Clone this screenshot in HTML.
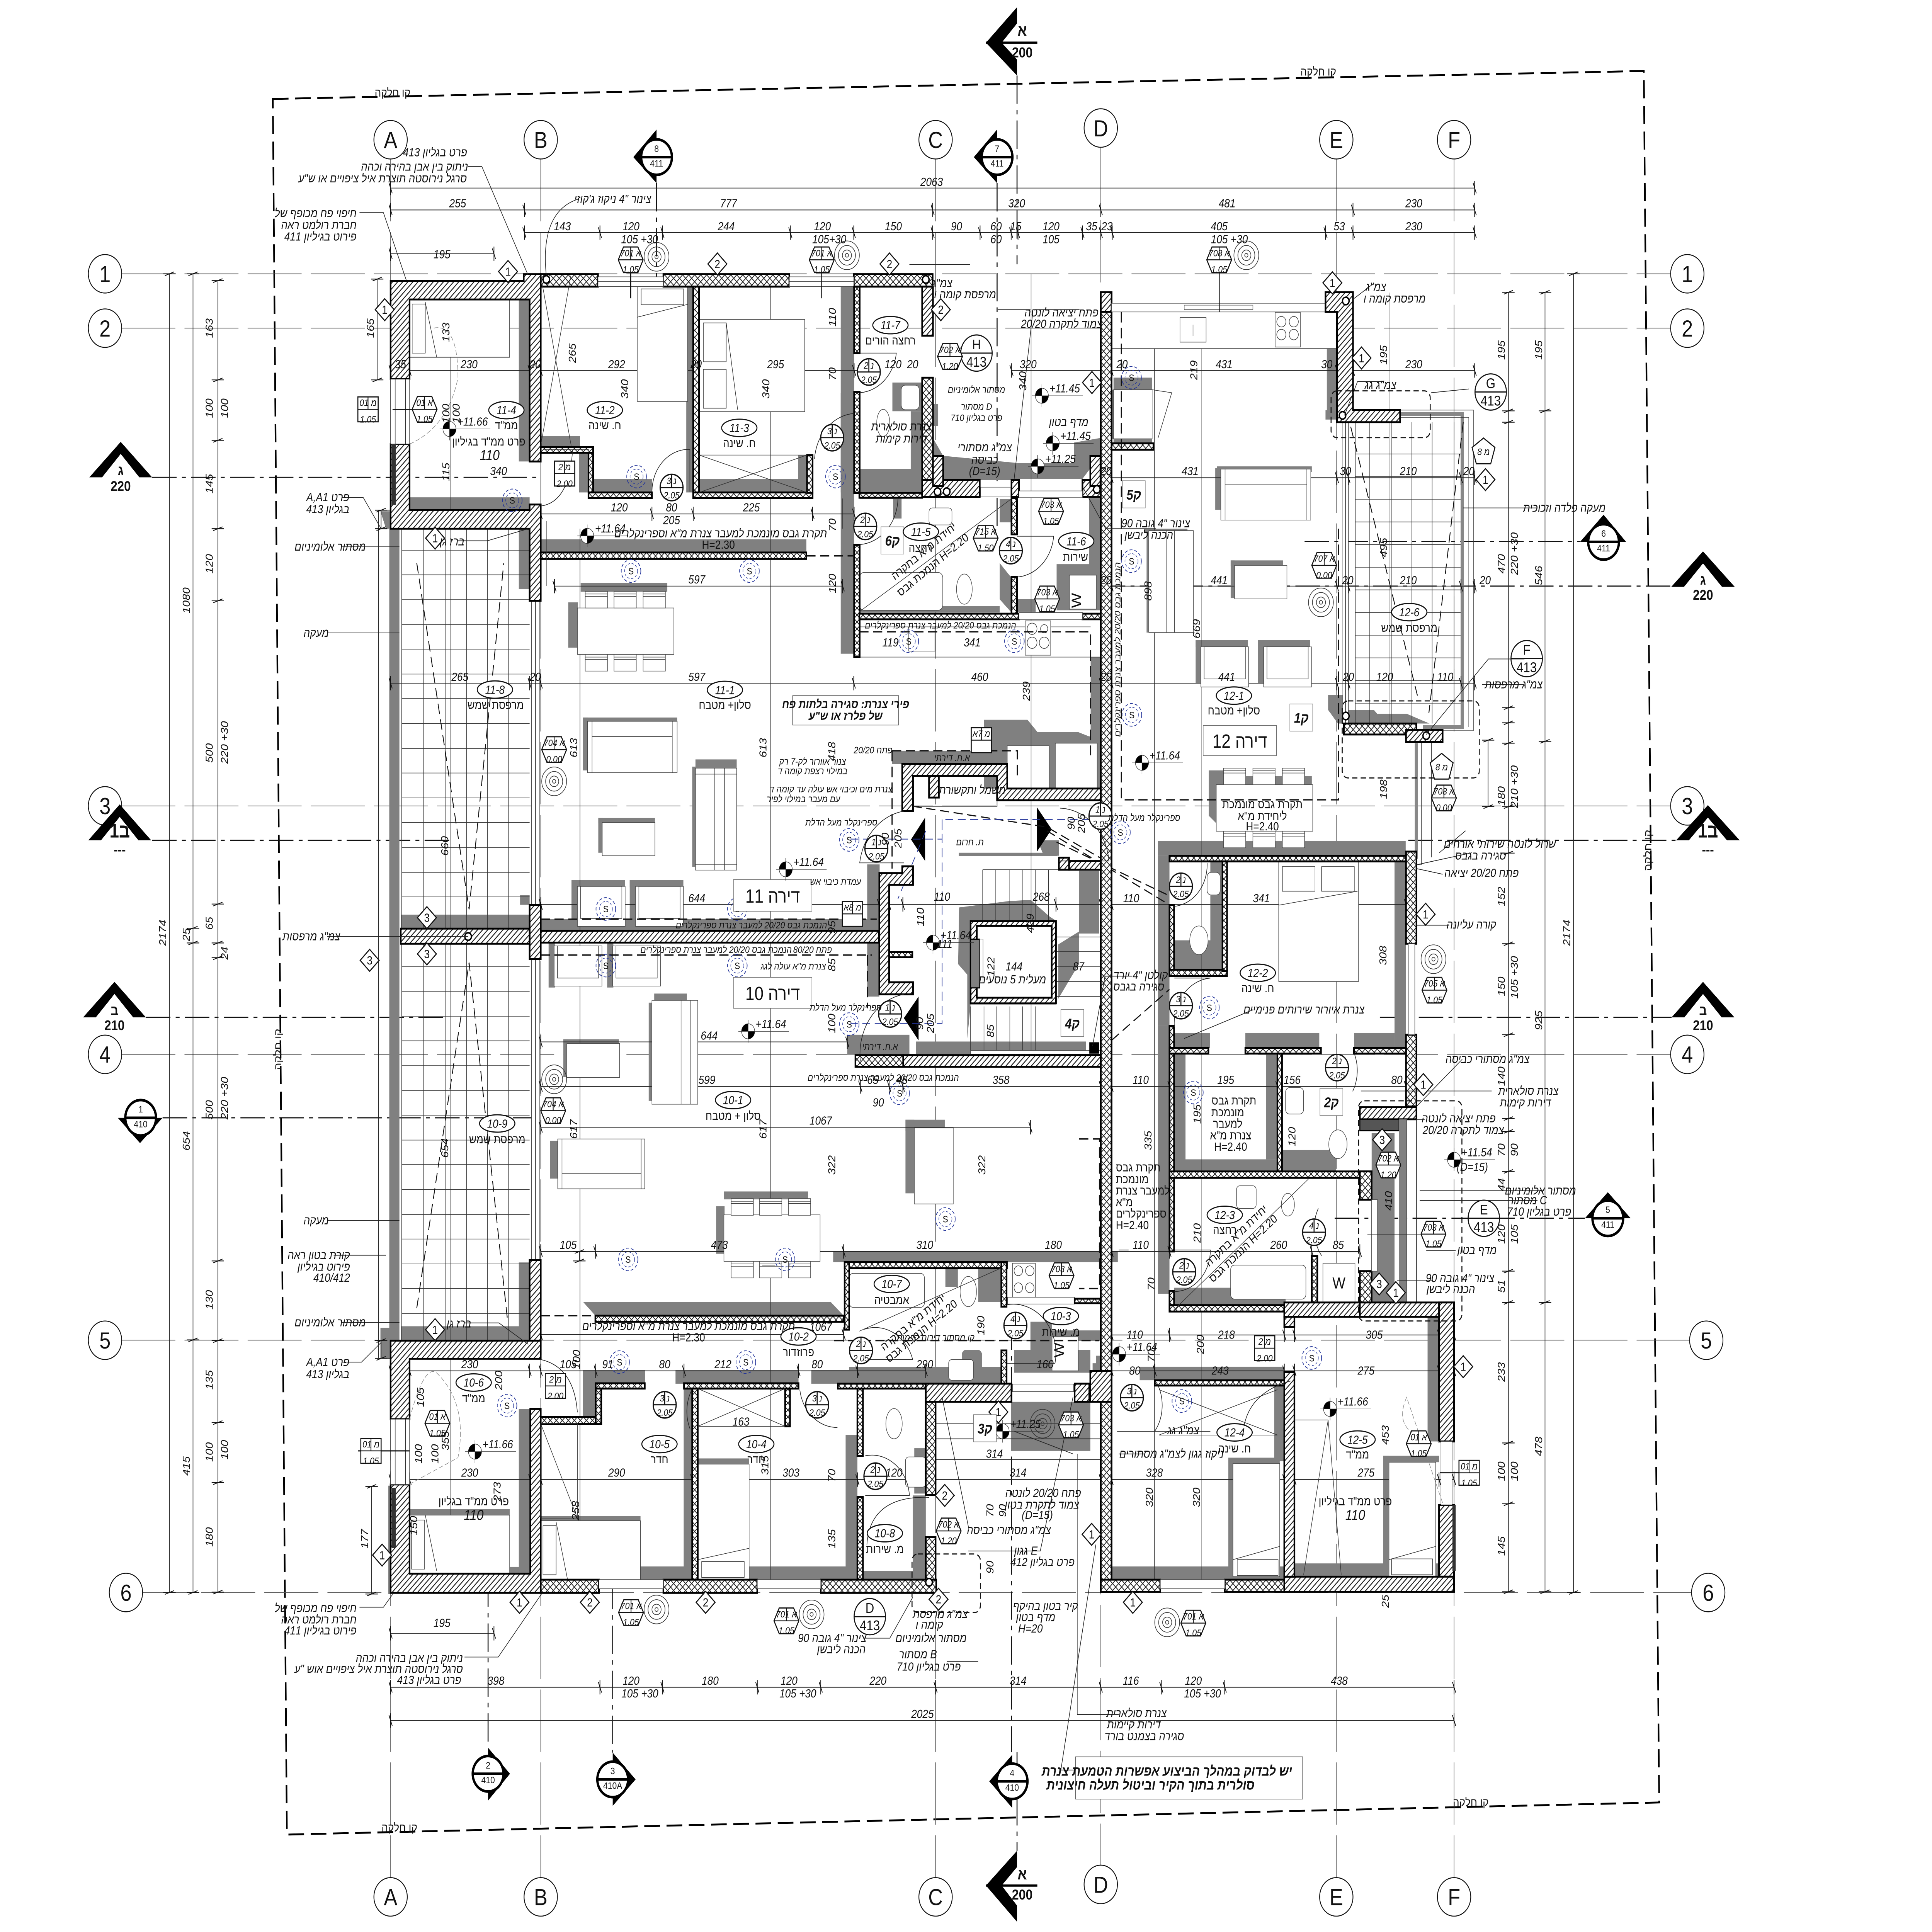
<!DOCTYPE html>
<html style="width:100%;height:100%;overflow:hidden"><head><meta charset="utf-8"><style>
html,body{margin:0;padding:0;background:#fff;overflow:hidden;width:100%;height:100%}
svg{display:block;width:100vw;height:100vh}
text{font-family:"Liberation Sans Narrow","Liberation Sans","Noto Sans CJK SC",sans-serif;font-style:italic;font-size:31px;text-anchor:middle;fill:#111;stroke:none}
.u{font-style:normal}.r{text-anchor:end}.l{text-anchor:start}.b{font-weight:bold}
.f{font-size:25px}.m{font-size:37px}.g{font-family:"Liberation Sans",sans-serif;font-style:normal;font-size:62px}
.w{fill:url(#h);stroke:#000;stroke-width:5}.x{fill:url(#c);stroke:#000;stroke-width:5}
.s{fill:#808080;stroke:none}.t{fill:none;stroke:#333;stroke-width:1.6}.q{fill:#fff;stroke:#444;stroke-width:1.6}
.d{fill:none;stroke:#222;stroke-width:2;marker-start:url(#k);marker-mid:url(#k);marker-end:url(#k)}
.gl{fill:none;stroke:#555;stroke-width:1.6;stroke-dasharray:165 28}
.sc{fill:none;stroke:#111;stroke-width:3;stroke-dasharray:75 16 12 16}
.da{fill:none;stroke:#111;stroke-width:3.5;stroke-dasharray:28 14}
.l1{fill:none;stroke:#222;stroke-width:1.8}
.blk{fill:#000;stroke:none}
</style></head><body>
<svg xmlns="http://www.w3.org/2000/svg" viewBox="0 0 5906 5116" preserveAspectRatio="none">
<defs>
<pattern id="h" width="11" height="11" patternUnits="userSpaceOnUse" patternTransform="rotate(-45)"><rect width="11" height="11" fill="#fff"/><rect width="11" height="2.6" fill="#222"/></pattern>
<pattern id="c" width="13" height="13" patternUnits="userSpaceOnUse" patternTransform="rotate(45)"><rect width="13" height="13" fill="#fff"/><rect width="13" height="2.2" fill="#222"/><rect width="2.2" height="13" fill="#222"/></pattern>
<marker id="k" markerUnits="userSpaceOnUse" markerWidth="44" markerHeight="44" viewBox="-22 -22 44 44" orient="auto"><path d="M-5,-14L5,14M0,-19V19" stroke="#111" stroke-width="2.2" fill="none"/></marker>
<g id="hex"><polygon points="-22,-34 22,-34 38,0 22,34 -22,34 -38,0" fill="#fff" stroke="#111" stroke-width="3"/><path d="M-38,0H38M0,-34V0" stroke="#111" stroke-width="2.5"/></g>
<g id="dr"><circle r="35" fill="#fff" stroke="#111" stroke-width="3.5"/><path d="M-35,0H35M0,-35V0" stroke="#111" stroke-width="3"/></g>
<g id="sq"><rect x="-31" y="-33" width="62" height="66" fill="#fff" stroke="#111" stroke-width="3"/><path d="M-31,0H31M0,-33V0" stroke="#111" stroke-width="2.5"/></g>
<polygon id="dm" points="0,-29 29,0 0,29 -29,0" fill="#fff" stroke="#111" stroke-width="3"/>
<g id="lv"><circle r="20" fill="#fff" stroke="#333" stroke-width="1.5"/><path d="M0,0V-20A20,20 0 0 0 -20,0ZM0,0V20A20,20 0 0 0 20,0Z" fill="#000"/><path d="M0,0H125M0,-30V30M-30,0H30" stroke="#333" stroke-width="1.3" fill="none"/></g>
<g id="sp"><circle r="30" fill="none" stroke="#223399" stroke-width="2" stroke-dasharray="9 6"/><circle r="20" fill="none" stroke="#223399" stroke-width="1.5" stroke-dasharray="7 5"/></g>
<g id="sr" fill="none" stroke="#333" stroke-width="1.8"><circle r="38"/><circle r="26"/><circle r="14"/><circle r="5"/></g>
<ellipse id="el" rx="54" ry="23" fill="#fff" stroke="#111" stroke-width="3"/>
<g id="bx"><rect x="-35" y="-36" width="70" height="72" fill="#fff" stroke="#777" stroke-width="1.5"/></g>
<g id="chair"><rect x="0" y="0" width="68" height="44" class="q"/><path d="M0,7H68M0,13H68" class="t"/></g>
<g id="arm"><rect width="146" height="106" class="q"/><rect x="10" y="0" width="126" height="85" class="t"/></g>
</defs>
<rect width="5906" height="5116" fill="#fff"/>

<!-- parcel -->
<path d="M834,262L5025,188L5072,4773L877,4858Z" fill="none" stroke="#000" stroke-width="5" stroke-dasharray="48 20"/>

<!-- grid -->
<path class="gl" d="M1194,421V4973M1653,421V4973M2860,421V4973M3365,390V4940M4085,421V4973M4445,421V4973"/>
<path class="gl" d="M371,725H5108M371,869H5108M371,2134H5108M371,2792H5108M371,3549H5165M422,4217H5172"/>

<!-- section lines -->
<path class="sc" d="M465,1264H1640M3365,1552H5109M465,2225H1382M4305,2225H5124M446,2694H1365M4218,2694H5110M497,2960H1655M3988,1434H4830M4080,3226H4845"/>
<path class="sc" d="M2007,485V1015M3048,485V1400M1492,4061V4628M1873,4067V4641"/>
<path class="sc" d="M3109,200V700M3092,3500V4640M3109,4640V4901"/>

<!-- shadows -->
<g class="s">
<rect x="1586" y="793" width="33" height="429"/><rect x="1252" y="1317" width="367" height="34"/>
<rect x="2098" y="759" width="21" height="545"/><rect x="2570" y="759" width="41" height="545"/>
<rect x="1653" y="1155" width="120" height="30"/><rect x="1770" y="1199" width="30" height="105"/><rect x="1813" y="1268" width="180" height="36"/>
<rect x="2137" y="1268" width="330" height="36"/><rect x="2440" y="1205" width="27" height="99"/>
<rect x="1653" y="1428" width="812" height="35"/>
<rect x="2728" y="1013" width="91" height="76"/><rect x="2784" y="1089" width="35" height="153"/><rect x="2627" y="1242" width="192" height="63"/><rect x="2852" y="1070" width="16" height="58"/>
<polygon points="2852,1160 2883,1207 3110,1226 3110,1271 2852,1271"/>
<polygon points="3110,1226 3283,1226 3283,1172 3362,1160 3362,1207 3309,1268 3110,1268"/>
<rect x="2730" y="1319" width="26" height="54"/><rect x="3056" y="1322" width="36" height="61"/>
<polygon points="3329,1319 3364,1319 3364,1616 3230,1616 3230,1494 3329,1494"/>
<polygon points="3056,1491 3092,1530 3092,1622 3056,1587"/>
<polygon points="2627,1590 2847,1590 2847,1565 2883,1565 2883,1605 3056,1605 3056,1622 2627,1622"/>
<rect x="3111" y="1586" width="55" height="34"/>
<rect x="2570" y="1041" width="41" height="690"/>
<rect x="3334" y="1740" width="31" height="348"/>
<polygon points="3008,1973 3008,1906 3141,1906 3171,1938 3294,1938 3329,1950 3354,1950 3354,2088 3008,2088"/>
<rect x="2727" y="1988" width="383" height="35"/><rect x="3013" y="2055" width="36" height="33"/>
<rect x="2651" y="2289" width="38" height="172"/><rect x="2651" y="2495" width="37" height="138"/>
<rect x="2800" y="2758" width="520" height="36"/>
<rect x="2931" y="2258" width="301" height="9"/>
<polygon points="3171,2225 3237,2225 3237,2266 3191,2266"/>
<polygon points="2932,2403 3085,2386 3151,2383 3207,2426 3228,2438 3228,2660 2967,2660 2957,2750 2957,2581 2929,2553"/>
<rect x="3298" y="2306" width="62" height="166"/>
<polygon points="3235,2501 3298,2467 3298,2553 3235,2645"/>
<rect x="1653" y="2434" width="1034" height="31"/><rect x="1225" y="2422" width="394" height="37"/>
<rect x="1586" y="1400" width="33" height="160"/><rect x="1586" y="3343" width="33" height="184"/><rect x="1225" y="3512" width="394" height="37"/>
<rect x="1590" y="2370" width="29" height="26"/>
<rect x="1190" y="1400" width="31" height="2150"/>
<polygon points="1163,1354 1195,1354 1195,1400 1180,1400"/><rect x="1163" y="3516" width="32" height="81"/><rect x="1187" y="3934" width="10" height="287"/>
<rect x="2547" y="3314" width="870" height="28"/>
<polygon points="1783,3448 2540,3448 2579,3484 1820,3484"/>
<rect x="2652" y="2529" width="36" height="110"/><rect x="2590" y="2740" width="190" height="52"/>
<rect x="2596" y="3620" width="465" height="44"/><rect x="3100" y="3575" width="233" height="60"/>
<rect x="3090" y="3712" width="243" height="130"/><rect x="3340" y="3610" width="25" height="55"/>
<rect x="3150" y="3500" width="66" height="130"/><rect x="3216" y="3523" width="150" height="28"/>
<rect x="2940" y="3574" width="62" height="60" rx="14"/>
<rect x="2890" y="3358" width="38" height="50"/><rect x="2990" y="3358" width="70" height="90"/>
<rect x="2768" y="2965" width="120" height="30"/><rect x="2768" y="2965" width="27" height="195"/>
<rect x="1782" y="3635" width="40" height="128"/><rect x="1782" y="3628" width="190" height="36"/><rect x="2065" y="3628" width="376" height="36"/>
<rect x="2480" y="3628" width="350" height="36"/>
<rect x="2090" y="3677" width="26" height="475"/><rect x="1653" y="4148" width="463" height="35"/>
<rect x="2585" y="3800" width="36" height="383"/><rect x="2133" y="4148" width="488" height="35"/>
<rect x="2133" y="3862" width="157" height="18"/>
<rect x="1653" y="4015" width="305" height="15"/>
<rect x="1586" y="3731" width="35" height="436"/><rect x="1252" y="4149" width="369" height="18"/><rect x="1252" y="3996" width="306" height="17"/>
<rect x="2795" y="3835" width="35" height="120"/><rect x="2790" y="3960" width="40" height="225"/><rect x="2638" y="4160" width="192" height="25"/>
<rect x="3398" y="1032" width="24" height="130"/><rect x="3404" y="1000" width="118" height="32"/><rect x="3404" y="1162" width="118" height="12"/>
<rect x="3720" y="1235" width="290" height="15"/><rect x="3715" y="1240" width="17" height="110"/>
<rect x="3500" y="1400" width="130" height="12"/><rect x="3505" y="1405" width="12" height="270"/>
<rect x="3762" y="1484" width="160" height="14"/><rect x="3762" y="1484" width="12" height="100"/>
<rect x="3655" y="1695" width="160" height="18"/><rect x="3655" y="1695" width="16" height="115"/>
<rect x="3845" y="1695" width="160" height="18"/><rect x="3845" y="1695" width="18" height="115"/>
<rect x="4056" y="923" width="31" height="163"/><rect x="4052" y="1086" width="35" height="25"/>
<polygon points="4060,1840 4105,1840 4108,1916 4090,1916 4060,1880"/>
<polygon points="4108,1880 4200,1880 4210,1890 4300,1890 4370,1916 4108,1916"/>
<rect x="3540" y="2227" width="757" height="39"/><rect x="3540" y="2266" width="35" height="450"/><rect x="4263" y="2281" width="35" height="494"/>
<rect x="3700" y="2281" width="37" height="250"/>
<rect x="3589" y="2490" width="148" height="78"/>
<rect x="3589" y="2735" width="110" height="40"/><rect x="3807" y="2735" width="226" height="40"/><rect x="4139" y="2735" width="124" height="40"/>
<rect x="3589" y="2790" width="35" height="322"/><rect x="3589" y="3070" width="316" height="32"/><rect x="3870" y="2790" width="35" height="280"/>
<rect x="3919" y="3045" width="165" height="57"/>
<rect x="3540" y="2716" width="35" height="710"/>
<polygon points="3589,3410 3930,3410 3930,3456 3589,3456"/>
<rect x="3484" y="3619" width="442" height="36"/><rect x="3895" y="3669" width="31" height="200"/>
<rect x="3398" y="4148" width="528" height="35"/><rect x="3755" y="3860" width="14" height="290"/><rect x="3755" y="3860" width="157" height="15"/>
<rect x="4364" y="3487" width="35" height="330"/><rect x="4228" y="3855" width="171" height="17"/><rect x="4228" y="3855" width="18" height="300"/><rect x="3957" y="4140" width="442" height="35"/>
<rect x="4193" y="3000" width="70" height="449"/>
<rect x="3350" y="3590" width="48" height="40"/>
<rect x="3720" y="2055" width="290" height="23"/>
<polygon points="3695,2040 3740,2040 3740,2078 3718,2078 3718,2180 3695,2160"/>
<!-- furniture shadows apt 11 / 10 -->
<rect x="1775" y="1543" width="265" height="24"/><rect x="1737" y="1595" width="30" height="120"/>
<rect x="1782" y="1900" width="288" height="16"/><rect x="1782" y="1900" width="16" height="140"/>
<rect x="2116" y="2030" width="12" height="265"/><rect x="2126" y="2011" width="126" height="24"/>
<rect x="1829" y="2166" width="173" height="14"/><rect x="1829" y="2166" width="14" height="92"/>
<rect x="1747" y="2330" width="164" height="20"/><rect x="1747" y="2330" width="20" height="123"/><rect x="1925" y="2330" width="164" height="20"/><rect x="1925" y="2330" width="20" height="123"/>
<rect x="1677" y="2495" width="19" height="120"/><rect x="1856" y="2495" width="19" height="120"/>
<rect x="2000" y="2631" width="100" height="20"/><rect x="1983" y="2655" width="12" height="260"/>
<rect x="1722" y="2752" width="170" height="13"/><rect x="1722" y="2752" width="13" height="100"/>
<rect x="1681" y="3021" width="26" height="100"/>
<rect x="2213" y="3155" width="257" height="21"/><rect x="2189" y="3194" width="26" height="126"/>
</g>
<rect x="3079" y="1975" width="128" height="113" class="q"/><rect x="3226" y="1968" width="128" height="120" class="q"/>

<!-- balconies tiles -->
<path class="t" d="M1228,1400V3550M1294,1400V3550M1361,1400V3550M1426,1400V3550M1490,1400V3550M1555,1400V3550"/>
<path class="t" d="M1228,1457H1619M1228,1522H1619M1228,1588H1619M1228,1654H1619M1228,1719H1619M1228,1785H1619M1228,1850H1619M1228,1916H1619M1228,1982H1619M1228,2047H1619M1228,2113H1619M1228,2178H1619M1228,2244H1619M1228,2310H1619M1228,2375H1619M1228,2560H1619M1228,2625H1619M1228,2691H1619M1228,2756H1619M1228,2822H1619M1228,2888H1619M1228,2953H1619M1228,3019H1619M1228,3084H1619M1228,3150H1619M1228,3216H1619M1228,3281H1619M1228,3347H1619M1228,3412H1619M1228,3478H1619"/>
<path class="l1" d="M1157,1351V3597M1153,1351H1195M1153,3597H1195"/>
<path class="da" style="stroke-width:2.5" d="M1274,1491L1434,2408L1540,1491M1274,3464L1434,2549L1551,3492"/>
<path class="t" d="M4143,1118V1916M4186,1118V1916M4253,1118V1916M4316,1118V1916M4378,1118V1916M4445,1118V1916"/>
<path class="t" d="M4143,1202H4466M4143,1262H4466M4143,1322H4466M4143,1382H4466M4143,1442H4466M4143,1502H4466M4143,1562H4466M4143,1622H4466M4143,1682H4466M4143,1742H4466M4143,1802H4466M4143,1862H4466"/>
<path d="M4280,1096H4470V1925H4350M4330,1968V2274" fill="none" stroke="#888" stroke-width="10"/>
<path class="t" d="M4280,1086H4504V1935H4410M4280,1105H4490V1925M4345,1965V2290H4330M4376,1965V2270"/>
<path class="da" style="stroke-width:2.5" d="M4129,1130L4333,1842M4473,1118L4368,1888"/>
<rect x="4105" y="1118" width="17" height="798" class="q"/><path class="l1" d="M4113,1118V1916"/>
<rect x="1625" y="1591" width="25" height="805" class="q"/><rect x="1625" y="2540" width="25" height="797" class="q"/>
<path class="l1" d="M1637,1591V2396M1637,2540V3337"/>

<!-- long thin lines -->
<path class="t" d="M1378,743V4167M1773,1400V4183M2356,760V4183M2576,1320V1400M3152,726V2800M3529,826V4183M3672,826V4183M4249,775V1950"/>
<path class="d" d="M1194,981H1252H1619H1653H2119H2137H2611H2628"/>
<path class="d" d="M3092,981H3398H4087H4136H4508"/>
<path class="d" d="M1653,1361H1993H2119H2484H2611"/>
<path class="d" d="M1695,1552H2576"/>
<path class="d" d="M3398,1265H4087H4122H4466H4508"/>
<path class="d" d="M3398,1552H4087H4122H4466H4508"/>
<path class="d" d="M1194,1809H1619H1653H2610H3365H3398H4087H4122H4466H4508"/>
<path class="d" d="M1653,2395H2687"/><path class="d" d="M2718,2395H2760H3228H3365H3398H4298"/>
<path class="d" d="M1653,2759H2590"/><path class="d" d="M1653,2877H2630H2718H2760H3365H3398H3575H3905H4298"/>
<path class="d" d="M1653,2985H3150"/><path class="d" d="M1653,3314H1820H2579H3365H3398H3575H4010H4157"/>
<path class="d" d="M1653,3534H2579"/><path class="d" d="M3398,3535H3575H3926H3957H4399H4445"/>
<path class="d" d="M1194,3630H1252H1619H1653H1821H2091H2441H2621H2830"/><path class="d" d="M3398,3630H3530H3926H3957H4399H4445"/>
<path class="d" d="M1194,3918H1252H1621H1653H2116H2133H2621H2830H3365H3398H3926H3957H4399H4445"/>
<path class="l1" d="M2860,3865H3398M2860,3810H3398"/>

<!-- furniture -->
<g>
<rect x="1765" y="1610" width="295" height="123" class="q"/>
<use href="#chair" x="1789" y="1566"/><use href="#chair" x="1877" y="1566"/><use href="#chair" x="1966" y="1566"/><use href="#chair" x="1789" y="1733"/><use href="#chair" x="1877" y="1733"/><use href="#chair" x="1966" y="1733"/>
<rect x="1796" y="1910" width="274" height="136" class="q"/><path class="t" d="M1810,1950H2055M1810,1910V2046M2055,1910V2046"/>
<rect x="2126" y="2034" width="126" height="270" class="q"/><path class="t" d="M2185,2034V2304M2215,2034V2304M2126,2050H2252M2126,2290H2252"/>
<rect x="1841" y="2178" width="161" height="88" class="q"/>
<use href="#arm" x="1765" y="2347"/><use href="#arm" x="1943" y="2347"/>
<use href="#arm" x="1694" y="2505"/><use href="#arm" x="1873" y="2505"/>
<rect x="1993" y="2649" width="140" height="275" class="q"/><path class="t" d="M2082,2649V2924M2110,2649V2924"/>
<rect x="1733" y="2763" width="161" height="90" class="q"/>
<rect x="1705" y="3016" width="266" height="132" class="q"/><path class="t" d="M1718,3108H1960M1718,3016V3148M1960,3016V3148"/>
<rect x="2213" y="3217" width="294" height="123" class="q"/>
<use href="#chair" x="2235" y="3174"/><use href="#chair" x="2322" y="3174"/><use href="#chair" x="2410" y="3174"/><use href="#chair" x="2235" y="3340"/><use href="#chair" x="2322" y="3340"/><use href="#chair" x="2410" y="3340"/>
<rect x="2795" y="2987" width="119" height="201" class="q"/>
<rect x="3398" y="826" width="689" height="97" class="q"/><rect x="3607" y="841" width="80" height="65" class="t"/><path class="t" d="M3647,860V890"/>
<rect x="3898" y="827" width="77" height="92" class="q"/><circle cx="3917" cy="852" r="14" class="t"/><circle cx="3955" cy="852" r="14" class="t"/><circle cx="3917" cy="886" r="14" class="t"/><circle cx="3955" cy="886" r="14" class="t"/>
<rect x="3404" y="1032" width="118" height="130" class="q"/><path class="t" d="M3522,1032L3582,1040L3540,1160"/>
<rect x="3732" y="1242" width="275" height="135" class="q"/><path class="t" d="M3745,1282H3995M3745,1242V1377M3995,1242V1377"/>
<rect x="3512" y="1405" width="136" height="270" class="q"/><path class="t" d="M3565,1405V1675M3590,1405V1675"/>
<rect x="3774" y="1497" width="160" height="89" class="q"/>
<use href="#arm" x="3671" y="1713"/><use href="#arm" x="3863" y="1713"/>
<rect x="3718" y="2078" width="295" height="123" class="q"/>
<use href="#chair" x="3740" y="2034"/><use href="#chair" x="3830" y="2034"/><use href="#chair" x="3920" y="2034"/><use href="#chair" x="3740" y="2201"/><use href="#chair" x="3830" y="2201"/><use href="#chair" x="3920" y="2201"/>
<rect x="1948" y="759" width="154" height="304" class="q"/><rect x="1960" y="765" width="130" height="42" class="t"/><path class="t" d="M1948,840L2102,806"/>
<rect x="2137" y="846" width="323" height="244" class="q"/><rect x="2150" y="855" width="70" height="103" class="t"/><rect x="2150" y="978" width="70" height="103" class="t"/><path class="t" d="M2220,855L2255,1085"/>
<rect x="1252" y="793" width="306" height="153" class="q"/><rect x="1260" y="805" width="40" height="130" class="t"/><path class="t" d="M1300,800L1335,946"/>
<rect x="3909" y="2281" width="244" height="318" class="q"/><rect x="3920" y="2295" width="100" height="65" class="t"/><rect x="4040" y="2295" width="100" height="65" class="t"/><path class="t" d="M3909,2397L4150,2360"/>
<rect x="1252" y="4012" width="306" height="155" class="q"/><rect x="1258" y="4025" width="40" height="130" class="t"/><path class="t" d="M1300,4012L1335,4160"/>
<rect x="1653" y="4027" width="305" height="156" class="q"/><rect x="1660" y="4040" width="40" height="130" class="t"/><path class="t" d="M1700,4030L1735,4183"/>
<rect x="2133" y="3877" width="157" height="306" class="q"/><rect x="2145" y="4135" width="130" height="42" class="t"/><path class="t" d="M2133,4130L2290,4100"/>
<rect x="3769" y="3875" width="143" height="300" class="q"/><rect x="3782" y="4130" width="125" height="42" class="t"/><path class="t" d="M3769,4130L3912,4095"/>
<rect x="4246" y="3872" width="143" height="303" class="q"/><rect x="4254" y="4128" width="125" height="42" class="t"/><path class="t" d="M4246,4130L4389,4095"/>
<path class="t" d="M1252,946H1558V793M2628,1660H3334M2627,1740H3365"/>
<rect x="2778" y="1660" width="80" height="64" class="q"/><rect x="3134" y="1644" width="78" height="91" class="q"/><circle cx="3155" cy="1665" r="15" class="t"/><circle cx="3192" cy="1665" r="11" class="t"/><circle cx="3155" cy="1702" r="15" class="t"/><circle cx="3192" cy="1702" r="15" class="t"/>
<rect x="2627" y="1516" width="255" height="100" rx="14" class="q"/>
<ellipse cx="2948" cy="1560" rx="24" ry="40" class="q"/><ellipse cx="2700" cy="1120" rx="20" ry="36" class="q"/>
<rect x="2755" y="1020" width="55" height="65" rx="12" class="q"/><rect x="2840" y="1345" width="70" height="45" rx="10" class="q"/>
<rect x="2596" y="3372" width="230" height="90" rx="12" class="q"/><ellipse cx="2960" cy="3420" rx="25" ry="40" class="q"/>
<rect x="2900" y="3600" width="76" height="55" rx="10" class="q"/><ellipse cx="2733" cy="3770" rx="25" ry="40" class="q"/><rect x="2768" y="3858" width="62" height="80" rx="10" class="q"/>
<rect x="3780" y="3140" width="60" height="60" rx="10" class="q"/><ellipse cx="3937" cy="3190" rx="20" ry="30" class="q"/>
<rect x="3762" y="3350" width="230" height="90" rx="12" class="q"/>
<rect x="3690" y="2310" width="40" height="60" rx="12" class="q"/><ellipse cx="3665" cy="2490" rx="28" ry="38" class="q"/>
<rect x="3930" y="2880" width="55" height="70" rx="12" class="q"/><ellipse cx="4090" cy="3030" rx="28" ry="38" class="q"/>
<rect x="3269" y="1523" width="82" height="90" class="q"/>
<rect x="4044" y="3345" width="98" height="105" class="q"/><rect x="3216" y="3540" width="80" height="90" class="q"/>
<rect x="3095" y="3345" width="70" height="90" class="q"/><circle cx="3113" cy="3365" r="13" class="t"/><circle cx="3148" cy="3365" r="13" class="t"/><circle cx="3113" cy="3410" r="13" class="t"/><circle cx="3148" cy="3410" r="13" class="t"/>
<path class="t" d="M2853,3770H3365"/>
</g>

<!-- stairs -->
<path class="t" d="M3004,2303V2438M3044,2303V2438M3085,2303V2438M3125,2303V2438M3166,2303V2438M3205,2303V2438M3004,2303H3235M2967,2665V2782M3008,2665V2782M3047,2665V2782M3087,2665V2782M3126,2665V2782M3166,2665V2782M3228,2481H3365M3228,2520H3365M3228,2560H3365M3228,2599H3365M3228,2639H3365"/>
<rect x="2967" y="2782" width="398" height="10" class="q"/>
<rect x="2967" y="2439" width="261" height="218" fill="url(#h)" stroke="#000" stroke-width="5"/>
<rect x="2986" y="2452" width="229" height="190" fill="#fff" stroke="#000" stroke-width="5"/>
<rect x="2967" y="2487" width="28" height="129" fill="#808080" stroke="#000" stroke-width="3"/>
<rect x="2995" y="2487" width="10" height="115" fill="#fff" stroke="#444"/>
<polygon class="blk" points="2785,2223 2828,2165 2828,2280"/>
<polygon class="blk" points="3215,2196 3170,2138 3170,2255"/>
<polygon class="blk" points="2763,2696 2808,2639 2808,2755"/>
<path class="da" style="stroke-width:3" d="M2790,2135L3200,2190L3400,2290M3200,2200L3575,2396M3230,2230L3570,2370M3365,2780L3575,2620"/>
<path fill="none" stroke="#223399" stroke-width="2" stroke-dasharray="24 14" d="M2600,2222H2880V2170H3360M2880,2170V2710H2600M2830,2200L2745,2380"/>

<!-- walls -->
<g>
<path class="w" d="M1194,744H1601V726H1653V1222H1619V793H1252V1004H1194Z"/>
<path class="w" d="M1194,1176H1252V1351H1619V1336H1653V1591H1619V1400H1194Z"/>
<rect class="q" x="1194" y="1004" width="58" height="172"/><path class="l1" d="M1208,1004V1176M1240,1004V1176"/>
<rect x="1197" y="1176" width="13" height="161" fill="#333"/>
<rect class="x" x="1653" y="726" width="175" height="33"/><rect class="x" x="2028" y="726" width="385" height="33"/><rect class="x" x="2610" y="726" width="241" height="33"/>
<rect class="q" x="1828" y="733" width="200" height="26"/><rect class="q" x="2413" y="733" width="197" height="26"/><path class="l1" d="M1828,746H2028M2413,746H2610"/>
<rect class="x" x="2119" y="759" width="18" height="545"/><rect class="x" x="2119" y="1304" width="365" height="15"/><rect class="x" x="2467" y="1205" width="17" height="100"/>
<rect class="x" x="1653" y="1184" width="160" height="15"/><rect class="x" x="1799" y="1199" width="14" height="105"/><rect class="x" x="1799" y="1304" width="194" height="15"/>
<rect class="x" x="2611" y="759" width="17" height="176"/><rect class="x" x="2611" y="1038" width="17" height="268"/><rect class="x" x="2611" y="1443" width="17" height="297"/><rect class="x" x="2627" y="1305" width="192" height="13"/>
<rect class="w" x="2819" y="759" width="33" height="130"/><rect class="x" x="2819" y="1000" width="33" height="271"/>
<rect class="w" x="2819" y="1271" width="176" height="45"/><rect class="w" x="3092" y="1271" width="23" height="45"/><rect class="w" x="3309" y="1271" width="56" height="45"/>
<rect class="w" x="2852" y="1207" width="31" height="80"/><rect class="w" x="3333" y="1207" width="31" height="80"/>
<rect class="x" x="3092" y="1319" width="17" height="96"/><rect class="x" x="3092" y="1528" width="17" height="97"/>
<rect class="x" x="2627" y="1625" width="488" height="15"/><rect class="x" x="3309" y="1625" width="56" height="15"/>
<rect class="q" x="2998" y="1290" width="92" height="26"/><rect class="q" x="3115" y="1300" width="194" height="18"/><rect class="q" x="3115" y="1622" width="194" height="18"/>
<rect class="x" x="1653" y="1463" width="812" height="17"/><rect class="x" x="1820" y="3484" width="759" height="16"/>
<rect class="x" x="3365" y="774" width="33" height="3441"/>
<rect class="w" x="3365" y="774" width="33" height="52"/>
<rect class="q" x="3398" y="803" width="654" height="23"/><rect class="q" x="3620" y="808" width="210" height="12"/>
<path class="w" d="M4052,774H4136V1086H4280V1118H4087V826H4052Z"/>
<rect class="x" x="3398" y="1174" width="128" height="17"/>
<rect class="x" x="4108" y="1916" width="222" height="29"/><rect class="w" x="4298" y="1933" width="112" height="32"/>
<rect class="x" x="3575" y="2266" width="723" height="15"/><rect class="x" x="4298" y="2255" width="32" height="244"/><rect class="x" x="4298" y="2740" width="32" height="190"/>
<rect class="q" x="4305" y="2499" width="20" height="241"/>
<rect class="x" x="3575" y="2396" width="14" height="184"/><rect class="x" x="3575" y="2568" width="176" height="17"/><rect class="x" x="3737" y="2281" width="14" height="290"/>
<rect class="x" x="3575" y="2717" width="14" height="597"/><rect class="x" x="3575" y="2775" width="119" height="15"/><rect class="x" x="3807" y="2775" width="231" height="15"/><rect class="x" x="4139" y="2775" width="159" height="15"/>
<rect class="x" x="3905" y="2790" width="14" height="312"/><rect class="x" x="3575" y="3102" width="618" height="17"/><rect class="x" x="4157" y="3102" width="36" height="75"/><rect class="x" x="4157" y="3366" width="36" height="86"/>
<rect class="x" x="3575" y="3418" width="14" height="52"/><rect class="x" x="3575" y="3456" width="351" height="17"/>
<rect class="x" x="4010" y="3326" width="17" height="130"/><path class="l1" d="M4027,3315H4157"/>
<rect class="w" x="4157" y="2932" width="173" height="32"/><rect x="4157" y="2964" width="120" height="30" fill="#555" stroke="#000" stroke-width="3"/>
<rect class="q" x="4193" y="3177" width="18" height="189"/><path class="l1" d="M4300,2964V3449M4330,2964V3449"/><rect x="4277" y="2964" width="23" height="485" fill="#808080"/>
<rect class="w" x="3926" y="3449" width="231" height="38"/><rect class="w" x="4157" y="3449" width="288" height="38"/>
<rect class="w" x="4399" y="3449" width="46" height="368"/><rect class="w" x="4399" y="3985" width="46" height="190"/><rect class="q" x="4405" y="3817" width="34" height="168"/>
<rect x="4440" y="3985" width="10" height="175" fill="#333"/>
<rect class="w" x="3926" y="4175" width="519" height="40"/><rect class="x" x="3365" y="4183" width="182" height="32"/><rect class="x" x="3744" y="4183" width="182" height="32"/><rect class="q" x="3547" y="4183" width="197" height="24"/>
<rect class="w" x="3926" y="3633" width="31" height="542"/><rect class="w" x="3926" y="3487" width="31" height="27"/>
<rect class="x" x="3530" y="3655" width="396" height="14"/>
<rect class="w" x="1619" y="2396" width="34" height="144"/>
<rect class="w" x="1225" y="2459" width="394" height="40"/><rect class="w" x="1653" y="2465" width="1034" height="31"/>
<rect class="w" x="1619" y="3337" width="34" height="248"/>
<path class="w" d="M1194,3550H1653V3598H1252V3758H1194Z"/>
<path class="w" d="M1194,3931H1252V4167H1621V3731H1653V4218H1194Z"/>
<rect class="q" x="1194" y="3758" width="58" height="173"/><path class="l1" d="M1208,3758V3931M1240,3758V3931"/>
<rect x="1197" y="3940" width="13" height="160" fill="#333"/>
<rect class="x" x="1653" y="3752" width="185" height="19"/><rect class="x" x="1821" y="3663" width="17" height="108"/><rect class="x" x="1821" y="3663" width="150" height="14"/><rect class="x" x="2091" y="3663" width="350" height="14"/>
<rect class="x" x="2116" y="3677" width="17" height="506"/><rect class="x" x="2400" y="3677" width="15" height="100"/>
<rect class="x" x="2621" y="3677" width="17" height="178"/><rect class="x" x="2621" y="3964" width="17" height="219"/>
<rect class="x" x="2561" y="3664" width="269" height="13"/>
<rect class="x" x="2830" y="3712" width="30" height="247"/><rect class="x" x="2830" y="4070" width="30" height="139"/>
<rect class="w" x="2830" y="3664" width="262" height="48"/><rect class="w" x="3285" y="3664" width="45" height="48"/><rect class="w" x="3333" y="3630" width="65" height="82"/>
<rect class="q" x="3095" y="3665" width="187" height="20"/>
<rect class="x" x="2582" y="3342" width="496" height="16"/><rect class="x" x="2582" y="3342" width="14" height="179"/><rect class="x" x="3061" y="3342" width="16" height="118"/><rect class="x" x="3061" y="3576" width="16" height="88"/>
<rect class="q" x="3080" y="3435" width="205" height="18"/><rect class="x" x="3285" y="3439" width="80" height="12"/>
<rect class="x" x="1653" y="4183" width="178" height="35"/><rect class="x" x="2028" y="4183" width="287" height="35"/><rect class="x" x="2509" y="4183" width="353" height="35"/>
<rect class="q" x="1831" y="4183" width="197" height="24"/><rect class="q" x="2315" y="4183" width="194" height="24"/>
<path class="w" d="M2758,2023H3079V2088H3365V2119H3048V2055H2791V2148H2758Z"/>
<rect class="w" x="2840" y="2055" width="30" height="57"/><path class="l1" d="M2791,2135H3048V2119"/>
<rect class="w" x="3237" y="2271" width="31" height="32"/><rect class="w" x="3268" y="2280" width="97" height="23"/>
<path class="w" d="M2688,2312H2758V2294H2791V2343H2718V2601H2791V2633H2688Z"/>
<rect class="x" x="2718" y="2521" width="71" height="14"/>
<rect class="w" x="2761" y="2794" width="604" height="31"/><rect class="x" x="2615" y="2794" width="146" height="31"/>
<rect x="3330" y="2760" width="30" height="30" fill="#000"/>
</g>
<g fill="#fff" stroke="#000" stroke-width="4"><circle cx="1670" cy="740" r="10"/><circle cx="2830" cy="740" r="10"/><circle cx="4114" cy="797" r="10"/><circle cx="4104" cy="1100" r="10"/><circle cx="3353" cy="1296" r="10"/><circle cx="2866" cy="1302" r="10"/><circle cx="2894" cy="1302" r="10"/><circle cx="1431" cy="2480" r="10"/><circle cx="4114" cy="1896" r="10"/><circle cx="4360" cy="1948" r="10"/><circle cx="2840" cy="4190" r="10"/></g>

<!-- dashed -->
<path class="da" d="M2465,1472H2611M2627,1673H3334V2000M1653,2434H2680M1653,2529H2665M2652,2529V2670M1653,3484H1820M3428,826V2118H4092V1400M3299,3016H3361V3412H3299M2550,3550H3360M2727,1988H3110V2055M2727,1988V2300"/>
<g fill="none" stroke="#111" stroke-width="3" stroke-dasharray="16 10">
<rect x="4069" y="1035" width="303" height="124" rx="18"/><rect x="4103" y="1856" width="419" height="204" rx="18"/><rect x="4153" y="2915" width="316" height="583" rx="18"/><rect x="2788" y="4115" width="209" height="155" rx="18"/>
</g>
<path class="t" d="M1670,1552V1380M2627,3525L3060,3358M2627,1620L3090,1322M3587,3470L4000,3122M2137,1304L2467,1205L2137,1205L2467,1304M1660,1190H1800M1653,3770L1765,4020M1653,4020V3770H1765V4020ZM2133,3777L2400,3677M2133,3677L2400,3777M2133,3777H2400M3543,3680L3905,3800M3543,3800L3905,3680M3543,3800H3905M3957,3760H4060L4100,4170M4060,3760L3985,4170M1653,730L1746,1180M1745,730L1653,1180"/>
<!-- doors -->
<path class="l1" d="M2109,1190A112,112 0 0 0 1993,1302M2109,1190V1302M1653,1340Q1740,1330 1750,1195M2628,1040A120,120 0 0 0 2740,935H2628M2628,1442A125,125 0 0 0 2745,1320H2628M2610,1095A130,130 0 0 0 2490,1215M3109,1528A120,120 0 0 0 3221,1420H3109M2763,2148A160,160 0 0 0 2628,2285H2763M2763,2633A160,160 0 0 0 2630,2810M3240,2140A155,155 0 0 1 3390,2280H3240M3590,2400A110,110 0 0 0 3690,2285M3590,2720A120,120 0 0 1 3700,2590H3590M3590,3420A110,110 0 0 0 3700,3310H3590M4040,3325A120,120 0 0 1 4030,3200M4140,2790A115,115 0 0 1 4135,2890M3535,3660A115,115 0 0 1 3530,3790H3415M2115,3680A115,115 0 0 0 2110,3785M2445,3680A115,115 0 0 0 2560,3780M1653,3600Q1755,3620 1765,3740M2642,3520A120,120 0 0 1 2790,3600H2642M3078,3455A130,130 0 0 1 3225,3610H3078M2645,3855A115,115 0 0 1 2780,3960H2645M2650,4090Q2660,3960 2840,3965M3945,3657Q3810,3690 3800,3795"/>
<path fill="none" stroke="#888" stroke-width="1.5" stroke-dasharray="14 6" d="M1252,1176Q1370,1130 1400,1000Q1400,850 1320,870M1252,3758Q1300,3600 1340,3640Q1430,3720 1400,3860L1252,3930M4399,3817Q4250,3800 4300,3700L4410,3980"/>

<!-- dimensions -->
<path class="d" d="M1194,498H4508"/>
<path class="d" d="M1194,556H1603H2851H3365H4136H4508"/>
<path class="d" d="M1603,616H1834H2025H2416H2610H2851H2996H3091H3112H3309H3365H3400H4052H4136H4508"/>
<path class="d" d="M1194,4468H1834H2025H2315H2509H2860H3365H3550H3744H4445"/>
<path class="d" d="M1194,4556H4445"/>
<path class="d" d="M1194,672H1510"/><path class="d" d="M1194,4325H1510"/>
<path class="d" d="M518,725V4217"/><path class="d" d="M590,725V2458V2497V3548V4217"/>
<path class="d" d="M666,743V1006V1166V1400V1591V2394V2497V2536V3339V3550V3767V3926V4216"/>
<path class="d" d="M1153,739V1006"/><path class="d" d="M1136,3936V4221"/>
<path class="d" d="M4611,774V1088V1118V1874V1914V1968V2136V2259V2499V2740V2962V2996V3102V3366V3449V3821V3982V4215"/>
<path class="d" d="M4723,774V1088V1963V3449V4215"/><path class="d" d="M4810,725V4217"/>
<path class="d" d="M4549,1960V2136"/>
<path class="d" d="M1165,1351V1400"/><path class="d" d="M1165,3550V3597"/>
<path class="d" d="M1771,3314V3339"/>

<!-- grid bubbles -->
<g fill="#fff" stroke="#111" stroke-width="2.5">
<circle cx="1194" cy="370" r="51"/><circle cx="1653" cy="370" r="51"/><circle cx="2860" cy="370" r="51"/><circle cx="3365" cy="339" r="51"/><circle cx="4085" cy="370" r="51"/><circle cx="4445" cy="370" r="51"/>
<circle cx="1194" cy="5023" r="51"/><circle cx="1653" cy="5023" r="51"/><circle cx="2860" cy="5023" r="51"/><circle cx="3365" cy="4990" r="51"/><circle cx="4085" cy="5023" r="51"/><circle cx="4445" cy="5023" r="51"/>
<circle cx="321" cy="725" r="51"/><circle cx="321" cy="869" r="51"/><circle cx="321" cy="2134" r="51"/><circle cx="321" cy="2792" r="51"/><circle cx="321" cy="3549" r="51"/><circle cx="385" cy="4217" r="51"/>
<circle cx="5158" cy="725" r="51"/><circle cx="5158" cy="869" r="51"/><circle cx="5158" cy="2134" r="51"/><circle cx="5158" cy="2792" r="51"/><circle cx="5216" cy="3549" r="51"/><circle cx="5222" cy="4217" r="51"/>
</g>
<g class="g">
<text class="g" x="1194" y="392">A</text><text class="g" x="1653" y="392">B</text><text class="g" x="2860" y="392">C</text><text class="g" x="3365" y="361">D</text><text class="g" x="4085" y="392">E</text><text class="g" x="4445" y="392">F</text>
<text class="g" x="1194" y="5045">A</text><text class="g" x="1653" y="5045">B</text><text class="g" x="2860" y="5045">C</text><text class="g" x="3365" y="5012">D</text><text class="g" x="4085" y="5045">E</text><text class="g" x="4445" y="5045">F</text>
<text class="g" x="321" y="747">1</text><text class="g" x="321" y="891">2</text><text class="g" x="321" y="2156">3</text><text class="g" x="321" y="2814">4</text><text class="g" x="321" y="3571">5</text><text class="g" x="385" y="4239">6</text>
<text class="g" x="5158" y="747">1</text><text class="g" x="5158" y="891">2</text><text class="g" x="5158" y="2156">3</text><text class="g" x="5158" y="2814">4</text><text class="g" x="5216" y="3571">5</text><text class="g" x="5222" y="4239">6</text>
</g>

<!-- section markers -->
<g class="blk">
<path d="M273,1264L369,1170L465,1264H426L369,1202L312,1264Z"/>
<path d="M270,2225L366,2130L462,2225H423L366,2163L309,2225Z"/>
<path d="M254,2694L350,2600L446,2694H407L350,2632L293,2694Z"/>
<path d="M5109,1554L5206,1460L5303,1554H5264L5206,1492L5148,1554Z"/>
<path d="M5124,2225L5221,2132L5318,2225H5279L5221,2165L5163,2225Z"/>
<path d="M5110,2694L5206,2600L5302,2694H5263L5206,2632L5149,2694Z"/>
<path d="M3014,113L3109,19V62L3062,113L3109,158V200Z"/><path d="M3014,4993L3109,4901V4944L3062,4993L3109,5046V5089Z"/>
</g>
<path d="M3014,113H3171M3014,4993H3171" stroke="#000" stroke-width="6"/>
<g font-weight="bold">
<text class="u b m" x="369" y="1258">ג</text><text class="u b m" x="369" y="1300">220</text>
<text class="u b" style="font-size:52px" x="366" y="2218">ב1</text><text class="u b m" x="366" y="2262">---</text>
<text class="u b m" x="350" y="2688">ב</text><text class="u b m" x="350" y="2728">210</text>
<text class="u b m" x="5206" y="1548">ג</text><text class="u b m" x="5206" y="1588">220</text>
<text class="u b" style="font-size:52px" x="5221" y="2218">ב1</text><text class="u b m" x="5221" y="2262">---</text>
<text class="u b m" x="5206" y="2688">ב</text><text class="u b m" x="5206" y="2728">210</text>
<text class="u b" style="font-size:42px" x="3125" y="95">א</text><text class="u b" style="font-size:38px" x="3125" y="152">200</text>
<text class="u b" style="font-size:42px" x="3125" y="4977">א</text><text class="u b" style="font-size:38px" x="3125" y="5030">200</text>
</g>
<!-- detail markers -->
<g stroke="#000" stroke-width="7" fill="#fff">
<path class="blk" d="M1936,416L2007,343V485Z"/><circle cx="2007" cy="416" r="47"/><path d="M1960,416H2054"/>
<path class="blk" d="M2977,416L3048,343V485Z"/><circle cx="3048" cy="416" r="47"/><path d="M3001,416H3095"/>
<path class="blk" d="M1559,4697L1492,4628V4768Z"/><circle cx="1492" cy="4697" r="47"/><path d="M1445,4697H1539"/>
<path class="blk" d="M1943,4712L1873,4641V4782Z"/><circle cx="1873" cy="4712" r="47"/><path d="M1826,4712H1920"/>
<path class="blk" d="M3024,4717L3094,4647V4787Z"/><circle cx="3094" cy="4717" r="47"/><path d="M3047,4717H3141"/>
<path class="blk" d="M360,2960H497L428,3027Z"/><circle cx="430" cy="2960" r="47"/><path d="M383,2960H477"/>
<path class="blk" d="M4830,1435H4971L4902,1363Z"/><circle cx="4902" cy="1435" r="47"/><path d="M4855,1435H4949"/>
<path class="blk" d="M4845,3226H4985L4915,3157Z"/><circle cx="4915" cy="3226" r="47"/><path d="M4868,3226H4962"/>
</g>
<g class="u">
<text class="u f" x="2007" y="402">8</text><text class="u f" x="2007" y="441">411</text>
<text class="u f" x="3048" y="402">7</text><text class="u f" x="3048" y="441">411</text>
<text class="u f" x="1492" y="4683">2</text><text class="u f" x="1492" y="4722">410</text>
<text class="u f" x="1873" y="4698">3</text><text class="u f" x="1873" y="4737">410A</text>
<text class="u f" x="3094" y="4703">4</text><text class="u f" x="3094" y="4742">410</text>
<text class="u f" x="430" y="2946">1</text><text class="u f" x="430" y="2985">410</text>
<text class="u f" x="4902" y="1421">6</text><text class="u f" x="4902" y="1460">411</text>
<text class="u f" x="4915" y="3212">5</text><text class="u f" x="4915" y="3251">411</text>
</g>
<!-- detail circles letter -->
<g fill="#fff" stroke="#111" stroke-width="3">
<circle cx="4557" cy="1038" r="48"/><circle cx="4667" cy="1744" r="48"/><circle cx="4536" cy="3226" r="48"/><circle cx="2659" cy="4281" r="48"/><circle cx="2985" cy="935" r="48"/>
<path d="M4509,1038H4605M4619,1744H4715M4488,3226H4584M2611,4281H2707M2937,935H3033"/>
</g>
<g class="u">
<text class="u m" x="4557" y="1028">G</text><text class="u m" x="4557" y="1074">413</text><text class="u m" x="4667" y="1734">F</text><text class="u m" x="4667" y="1780">413</text><text class="u m" x="4536" y="3216">E</text><text class="u m" x="4536" y="3262">413</text><text class="u m" x="2659" y="4271">D</text><text class="u m" x="2659" y="4317">413</text><text class="u m" x="2985" y="925">H</text><text class="u m" x="2985" y="971">413</text>
</g>

<!-- spirals -->
<use href="#sr" x="2007" y="680"/><use href="#sr" x="2589" y="676"/><use href="#sr" x="3810" y="676"/><use href="#sr" x="4038" y="1595"/><use href="#sr" x="1694" y="2069"/><use href="#sr" x="1694" y="2858"/><use href="#sr" x="4382" y="2540"/><use href="#sr" x="2007" y="4262"/><use href="#sr" x="2481" y="4275"/><use href="#sr" x="3568" y="4296"/><use href="#sr" x="3187" y="3770"/>

<!-- sprinklers -->
<g>
<use href="#sp" x="1566" y="1325"/><use href="#sp" x="1946" y="1262"/><use href="#sp" x="1929" y="1512"/><use href="#sp" x="2291" y="1512"/><use href="#sp" x="2554" y="1262"/><use href="#sp" x="2778" y="1698"/><use href="#sp" x="3459" y="1000"/><use href="#sp" x="3459" y="1486"/><use href="#sp" x="3101" y="1698"/><use href="#sp" x="3460" y="1893"/><use href="#sp" x="1852" y="2407"/><use href="#sp" x="2254" y="2407"/><use href="#sp" x="1852" y="2557"/><use href="#sp" x="2254" y="2557"/><use href="#sp" x="2596" y="2224"/><use href="#sp" x="2596" y="2712"/><use href="#sp" x="2750" y="2895"/><use href="#sp" x="2890" y="3228"/><use href="#sp" x="1920" y="3335"/><use href="#sp" x="2400" y="3335"/><use href="#sp" x="1894" y="3607"/><use href="#sp" x="2280" y="3607"/><use href="#sp" x="1550" y="3722"/><use href="#sp" x="3425" y="2204"/><use href="#sp" x="3697" y="2668"/><use href="#sp" x="3648" y="2893"/><use href="#sp" x="4010" y="3596"/><use href="#sp" x="3613" y="3710"/>
</g>
<g class="f">
<text class="f u" x="1566" y="1334">S</text><text class="f u" x="1946" y="1271">S</text><text class="f u" x="1929" y="1521">S</text><text class="f u" x="2291" y="1521">S</text><text class="f u" x="2554" y="1271">S</text><text class="f u" x="2778" y="1707">S</text><text class="f u" x="3459" y="1009">S</text><text class="f u" x="3459" y="1495">S</text><text class="f u" x="3101" y="1707">S</text><text class="f u" x="3460" y="1902">S</text><text class="f u" x="1852" y="2416">S</text><text class="f u" x="2254" y="2416">S</text><text class="f u" x="1852" y="2566">S</text><text class="f u" x="2254" y="2566">S</text><text class="f u" x="2596" y="2233">S</text><text class="f u" x="2596" y="2721">S</text><text class="f u" x="2750" y="2904">S</text><text class="f u" x="2890" y="3237">S</text><text class="f u" x="1920" y="3344">S</text><text class="f u" x="2400" y="3344">S</text><text class="f u" x="1894" y="3616">S</text><text class="f u" x="2280" y="3616">S</text><text class="f u" x="1550" y="3731">S</text><text class="f u" x="3425" y="2213">S</text><text class="f u" x="3697" y="2677">S</text><text class="f u" x="3648" y="2902">S</text><text class="f u" x="4010" y="3605">S</text><text class="f u" x="3613" y="3719">S</text>
</g>

<!-- leaders -->
<path class="l1" d="M1431,441H1473L1614,728M1099,563H1172L1242,742M1768,527Q1650,560 1670,730M1420,4388H1523L1656,4220M1099,4256H1172L1200,4222M1045,1317H1110L1165,1400M1045,1448H1221M1000,1676H1221M1400,1432H1490L1615,1400M1000,2480H1431M1000,3232H1221M1020,3324H1180M1045,3502H1221M1045,3607H1105L1165,3555M1420,3503H1525L1615,3560M2870,4286L2862,4230M2895,4400H2990M2640,4338H2720L2790,4230M2965,700H2780M4140,790L4200,750M3150,820H3050M3300,820H3158L3100,1270M4230,1010H4150L4110,1100M4375,1040L4490,1030M3533,1400H3380L3310,1290M4660,1745H4550L4360,1945M4660,1813H4530M4700,1345H4472M4500,2258L4330,2290M4400,2258L4480,2200M4410,2315L4330,2300M4430,2450H4330M4470,2805L4330,2930M4560,2889L4160,2889M4355,2965H4330M4340,3153H4720M4340,3179H4700M4180,3268H4400M4360,3311H4450M4380,3390H4270M3420,3790H3700M3280,3850L3100,3790M3420,3850H3500M2960,4107H3180L3280,3700M3420,4540H3293V3850M3288,4687H3243L3350,4090M2962,4050L2880,3700M3830,2674L3620,2750M3460,2585H3378L3340,2770M3450,3310H3420M2370,3350H2330"/>

<!-- note boxes -->
<rect x="2423" y="1842" width="324" height="78" fill="#fff" stroke="#555" stroke-width="1.5"/>
<rect x="3288" y="4652" width="694" height="112" fill="#fff" stroke="#555" stroke-width="1.5"/>
<g fill="#fff" stroke="#666" stroke-width="1.5"><rect x="2242" y="2329" width="240" height="84"/><rect x="2242" y="2588" width="240" height="82"/><rect x="3678" y="1921" width="224" height="80"/></g>
<text class="u m" style="font-size:50px" x="2362" y="2390">דירה 11</text><text class="u m" style="font-size:50px" x="2362" y="2648">דירה 10</text><text class="u m" style="font-size:50px" x="3790" y="1980">דירה 12</text>

<!-- diamonds -->
<g>
<use href="#dm" x="1553" y="719"/><use href="#dm" x="1176" y="820"/><use href="#dm" x="2193" y="699"/><use href="#dm" x="2719" y="699"/><use href="#dm" x="2876" y="820"/><use href="#dm" x="1330" y="1425"/><use href="#dm" x="4073" y="749"/><use href="#dm" x="3338" y="1013"/><use href="#dm" x="4162" y="948"/><use href="#dm" x="4541" y="1270"/><use href="#dm" x="1305" y="2430"/><use href="#dm" x="1305" y="2526"/><use href="#dm" x="1130" y="2543"/><use href="#dm" x="1330" y="3521"/><use href="#dm" x="4358" y="2421"/><use href="#dm" x="4351" y="2872"/><use href="#dm" x="4225" y="3018"/><use href="#dm" x="4216" y="3400"/><use href="#dm" x="4267" y="3423"/><use href="#dm" x="4473" y="3619"/><use href="#dm" x="3052" y="3739"/><use href="#dm" x="3337" y="4063"/><use href="#dm" x="3463" y="4243"/><use href="#dm" x="1168" y="4118"/><use href="#dm" x="1588" y="4243"/><use href="#dm" x="1803" y="4243"/><use href="#dm" x="2157" y="4243"/><use href="#dm" x="2888" y="3960"/><use href="#dm" x="2869" y="4235"/>
</g>
<g>
<text class="u" x="1553" y="730">1</text><text class="u" x="1176" y="831">1</text><text class="u" x="2193" y="710">2</text><text class="u" x="2719" y="710">2</text><text class="u" x="2876" y="831">2</text><text class="u" x="1330" y="1436">1</text><text class="u" x="4073" y="760">1</text><text class="u" x="3338" y="1024">1</text><text class="u" x="4162" y="959">1</text><text class="u" x="4541" y="1281">1</text><text class="u" x="1305" y="2441">3</text><text class="u" x="1305" y="2537">3</text><text class="u" x="1130" y="2554">3</text><text class="u" x="1330" y="3532">1</text><text class="u" x="4358" y="2432">1</text><text class="u" x="4351" y="2883">1</text><text class="u" x="4225" y="3029">3</text><text class="u" x="4216" y="3411">3</text><text class="u" x="4267" y="3434">1</text><text class="u" x="4473" y="3630">1</text><text class="u" x="3052" y="3750">1</text><text class="u" x="3337" y="4074">1</text><text class="u" x="3463" y="4254">1</text><text class="u" x="1168" y="4129">1</text><text class="u" x="1588" y="4254">1</text><text class="u" x="1803" y="4254">2</text><text class="u" x="2157" y="4254">2</text><text class="u" x="2888" y="3971">2</text><text class="u" x="2869" y="4246">2</text>
</g>

<!-- hex tags -->
<g>
<use href="#hex" x="1928" y="688"/><use href="#hex" x="2512" y="688"/><use href="#hex" x="1298" y="1084"/><use href="#hex" x="2904" y="944"/><use href="#hex" x="3727" y="688"/><use href="#hex" x="3213" y="1354"/><use href="#hex" x="3013" y="1425"/><use href="#hex" x="3201" y="1586"/><use href="#hex" x="4048" y="1497"/><use href="#hex" x="4414" y="2113"/><use href="#hex" x="1694" y="1985"/><use href="#hex" x="1691" y="2941"/><use href="#hex" x="4385" y="2622"/><use href="#hex" x="4244" y="3085"/><use href="#hex" x="4382" y="3268"/><use href="#hex" x="3245" y="3378"/><use href="#hex" x="2900" y="4054"/><use href="#hex" x="3274" y="3773"/><use href="#hex" x="1337" y="3769"/><use href="#hex" x="1929" y="4270"/><use href="#hex" x="2404" y="4292"/><use href="#hex" x="3648" y="4298"/><use href="#hex" x="4337" y="3823"/>
</g>
<g class="f">
<text class="f" x="1928" y="679">א 701</text><text class="f" x="1928" y="722">1.05</text>
<text class="f" x="2512" y="679">א 701</text><text class="f" x="2512" y="722">1.05</text>
<text class="f" x="1298" y="1075">א 01</text><text class="f" x="1298" y="1118">1.05</text>
<text class="f" x="2904" y="935">א 702</text><text class="f" x="2904" y="978">1.20</text>
<text class="f" x="3727" y="679">א 708</text><text class="f" x="3727" y="722">1.05</text>
<text class="f" x="3213" y="1345">א 703</text><text class="f" x="3213" y="1388">1.05</text>
<text class="f" x="3013" y="1416">א 715</text><text class="f" x="3013" y="1459">1.50</text>
<text class="f" x="3201" y="1577">א 703</text><text class="f" x="3201" y="1620">1.05</text>
<text class="f" x="4048" y="1488">א 707</text><text class="f" x="4048" y="1531">0.00</text>
<text class="f" x="4414" y="2104">א 708</text><text class="f" x="4414" y="2147">0.00</text>
<text class="f" x="1694" y="1976">א 704</text><text class="f" x="1694" y="2019">0.00</text>
<text class="f" x="1691" y="2932">א 704</text><text class="f" x="1691" y="2975">0.00</text>
<text class="f" x="4385" y="2613">א 705</text><text class="f" x="4385" y="2656">1.05</text>
<text class="f" x="4244" y="3076">א 702</text><text class="f" x="4244" y="3119">1.20</text>
<text class="f" x="4382" y="3259">א 703</text><text class="f" x="4382" y="3302">1.05</text>
<text class="f" x="3245" y="3369">א 703</text><text class="f" x="3245" y="3412">1.05</text>
<text class="f" x="2900" y="4045">א 702</text><text class="f" x="2900" y="4088">1.20</text>
<text class="f" x="3274" y="3764">א 703</text><text class="f" x="3274" y="3807">1.05</text>
<text class="f" x="1337" y="3760">א 01</text><text class="f" x="1337" y="3803">1.05</text>
<text class="f" x="1929" y="4261">א 701</text><text class="f" x="1929" y="4304">1.05</text>
<text class="f" x="2404" y="4283">א 701</text><text class="f" x="2404" y="4326">1.05</text>
<text class="f" x="3648" y="4289">א 701</text><text class="f" x="3648" y="4332">1.05</text>
<text class="f" x="4337" y="3814">א 01</text><text class="f" x="4337" y="3857">1.05</text>
</g>
<path d="M1200,1084H1260M1095,3842H1252M4402,3900H4459M3727,722V826M1928,722V790M2512,722V790" stroke="#111" stroke-width="3" fill="none"/>
<!-- square tags -->
<use href="#sq" x="1125" y="1084"/><use href="#sq" x="1134" y="3842"/><use href="#sq" x="4491" y="3900"/><use href="#sq" x="1726" y="1254"/><use href="#sq" x="1698" y="3670"/><use href="#sq" x="3866" y="3570"/><use href="#sq" x="2606" y="2420"/><use href="#sq" x="3000" y="1960"/>
<g class="f">
<text class="f" x="1125" y="1075">מ 01</text><text class="f" x="1125" y="1119">1.05</text>
<text class="f" x="1134" y="3833">מ 01</text><text class="f" x="1134" y="3877">1.05</text>
<text class="f" x="4491" y="3891">מ 01</text><text class="f" x="4491" y="3935">1.05</text>
<text class="f" x="1726" y="1245">מ 2</text><text class="f" x="1726" y="1289">2.00</text>
<text class="f" x="1698" y="3661">מ 2</text><text class="f" x="1698" y="3705">2.00</text>
<text class="f" x="3866" y="3561">מ 2</text><text class="f" x="3866" y="3605">2.00</text>
<text class="f" x="2606" y="2411">מ 8א</text><text class="f" x="3000" y="1951">מ 7א</text>
</g>
<polygon points="4535,1160 4570,1185 4557,1228 4513,1228 4500,1185" fill="#fff" stroke="#111" stroke-width="3"/><polygon points="4407,1995 4442,2020 4429,2063 4385,2063 4372,2020" fill="#fff" stroke="#111" stroke-width="3"/>
<text class="f" x="4535" y="1205">מ 8</text><text class="f" x="4407" y="2040">מ 8</text>

<!-- door tags -->
<g>
<use href="#dr" x="2656" y="985"/><use href="#dr" x="2544" y="1159"/><use href="#dr" x="2645" y="1394"/><use href="#dr" x="2053" y="1291"/><use href="#dr" x="3090" y="1458"/><use href="#dr" x="2679" y="2247"/><use href="#dr" x="2721" y="2685"/><use href="#dr" x="3364" y="2161"/><use href="#dr" x="3610" y="2347"/><use href="#dr" x="3610" y="2663"/><use href="#dr" x="4087" y="2827"/><use href="#dr" x="4017" y="3263"/><use href="#dr" x="3620" y="3368"/><use href="#dr" x="3460" y="3701"/><use href="#dr" x="2632" y="3576"/><use href="#dr" x="3104" y="3510"/><use href="#dr" x="2676" y="3909"/><use href="#dr" x="2032" y="3720"/><use href="#dr" x="2498" y="3720"/>
</g>
<g class="f">
<text class="f" x="2656" y="976">נ 2</text><text class="f" x="2656" y="1014">2.05</text>
<text class="f" x="2544" y="1150">נ 3</text><text class="f" x="2544" y="1188">2.05</text>
<text class="f" x="2645" y="1385">נ 2</text><text class="f" x="2645" y="1423">2.05</text>
<text class="f" x="2053" y="1282">נ 3</text><text class="f" x="2053" y="1320">2.05</text>
<text class="f" x="3090" y="1449">נ 4</text><text class="f" x="3090" y="1487">2.05</text>
<text class="f" x="2679" y="2238">נ 1</text><text class="f" x="2679" y="2276">2.05</text>
<text class="f" x="2721" y="2676">נ 1</text><text class="f" x="2721" y="2714">2.05</text>
<text class="f" x="3364" y="2152">נ 1</text><text class="f" x="3364" y="2190">2.05</text>
<text class="f" x="3610" y="2338">נ 2</text><text class="f" x="3610" y="2376">2.05</text>
<text class="f" x="3610" y="2654">נ 3</text><text class="f" x="3610" y="2692">2.05</text>
<text class="f" x="4087" y="2818">נ 2</text><text class="f" x="4087" y="2856">2.05</text>
<text class="f" x="4017" y="3254">נ 4</text><text class="f" x="4017" y="3292">2.05</text>
<text class="f" x="3620" y="3359">נ 2</text><text class="f" x="3620" y="3397">2.05</text>
<text class="f" x="3460" y="3692">נ 3</text><text class="f" x="3460" y="3730">2.05</text>
<text class="f" x="2632" y="3567">נ 2</text><text class="f" x="2632" y="3605">2.05</text>
<text class="f" x="3104" y="3501">נ 4</text><text class="f" x="3104" y="3539">2.05</text>
<text class="f" x="2676" y="3900">נ 2</text><text class="f" x="2676" y="3938">2.05</text>
<text class="f" x="2032" y="3711">נ 3</text><text class="f" x="2032" y="3749">2.05</text>
<text class="f" x="2498" y="3711">נ 3</text><text class="f" x="2498" y="3749">2.05</text>
</g>

<!-- levels -->
<use href="#lv" x="1374" y="1136"/><use href="#lv" x="1795" y="1419"/><use href="#lv" x="3185" y="1048"/><use href="#lv" x="3218" y="1174"/><use href="#lv" x="3172" y="1235"/><use href="#lv" x="2402" y="2302"/><use href="#lv" x="2852" y="2496"/><use href="#lv" x="2287" y="2731"/><use href="#lv" x="3491" y="2020"/><use href="#lv" x="3421" y="3586"/><use href="#lv" x="4066" y="3731"/><use href="#lv" x="1452" y="3844"/><use href="#lv" x="4445" y="3071"/><use href="#lv" x="3065" y="3790"/>
<g class="l">
<text class="l" x="1398" y="1127">+11.66</text><text class="l" x="1819" y="1410">+11.64</text><text class="l" x="3208" y="1039">+11.45</text><text class="l" x="3241" y="1165">+11.45</text><text class="l" x="3195" y="1226">+11.25</text><text class="l" x="2425" y="2293">+11.64</text><text class="l" x="2875" y="2487">+11.64</text><text class="l" x="2310" y="2722">+11.64</text><text class="l" x="3514" y="2011">+11.64</text><text class="l" x="3444" y="3577">+11.64</text><text class="l" x="4089" y="3722">+11.66</text><text class="l" x="1475" y="3835">+11.66</text><text class="l" x="4468" y="3062">+11.54</text><text class="l" x="3088" y="3781">+11.25</text>
</g>
<text x="4501" y="3101">(D=15)</text>

<!-- ק boxes -->
<use href="#bx" x="2728" y="1431"/><use href="#bx" x="3466" y="1309"/><use href="#bx" x="3978" y="1900"/><use href="#bx" x="3278" y="2709"/><use href="#bx" x="4070" y="2918"/><use href="#bx" x="3011" y="3782"/>
<g class="b" font-weight="bold">
<text class="b m" x="2728" y="1445">ק6</text><text class="b m" x="3466" y="1323">ק5</text><text class="b m" x="3978" y="1914">ק1</text><text class="b m" x="3278" y="2723">ק4</text><text class="b m" x="4070" y="2932">ק2</text><text class="b m" x="3011" y="3796">ק3</text>
</g>

<!-- room labels -->
<g>
<use href="#el" x="1548" y="1086"/><use href="#el" x="1849" y="1086"/><use href="#el" x="2260" y="1133"/><use href="#el" x="2722" y="861"/><use href="#el" x="2815" y="1408"/><use href="#el" x="3290" y="1433"/><use href="#el" x="2216" y="1827"/><use href="#el" x="1513" y="1826"/><use href="#el" x="4308" y="1621"/><use href="#el" x="3772" y="1842"/><use href="#el" x="3845" y="2576"/><use href="#el" x="3744" y="3217"/><use href="#el" x="3774" y="3793"/><use href="#el" x="4150" y="3812"/><use href="#el" x="2241" y="2913"/><use href="#el" x="1520" y="2975"/><use href="#el" x="2726" y="3400"/><use href="#el" x="2441" y="3539"/><use href="#el" x="1448" y="3661"/><use href="#el" x="2016" y="3824"/><use href="#el" x="2312" y="3824"/><use href="#el" x="3243" y="3485"/><use href="#el" x="2705" y="4060"/>
</g>
<text x="1548" y="1097">11-4</text><text class="u" x="1548" y="1137">ממ&quot;ד</text>
<text x="1849" y="1097">11-2</text><text class="u" x="1849" y="1137">ח. שינה</text>
<text x="2260" y="1144">11-3</text><text class="u" x="2260" y="1184">ח. שינה</text>
<text x="2722" y="872">11-7</text><text class="u" x="2722" y="912">רחצה הורים</text>
<text x="2815" y="1419">11-5</text><text class="u" x="2814" y="1461">רחצה</text>
<text x="3290" y="1444">11-6</text><text class="u" x="3288" y="1485">שירות</text>
<text x="2216" y="1838">11-1</text><text class="u" x="2216" y="1877">סלון+ מטבח</text>
<text x="1513" y="1837">11-8</text><text class="u" x="1515" y="1877">מרפסת שמש</text>
<text x="4308" y="1632">12-6</text><text class="u" x="4308" y="1673">מרפסת שמש</text>
<text x="3772" y="1853">12-1</text><text class="u" x="3772" y="1892">סלון+ מטבח</text>
<text x="3845" y="2587">12-2</text><text class="u" x="3845" y="2627">ח. שינה</text>
<text x="3744" y="3228">12-3</text><text class="u" x="3744" y="3267">רחצה</text>
<text x="3774" y="3804">12-4</text><text class="u" x="3774" y="3846">ח. שינה</text>
<text x="4150" y="3823">12-5</text><text class="u" x="4150" y="3862">ממ&quot;ד</text>
<text x="2241" y="2924">10-1</text><text class="u" x="2241" y="2965">סלון + מטבח</text>
<text x="1520" y="2986">10-9</text><text class="u" x="1520" y="3027">מרפסת שמש</text>
<text x="2726" y="3411">10-7</text><text class="u" x="2726" y="3453">אמבטיה</text>
<text x="2441" y="3550">10-2</text><text class="u" x="2441" y="3591">פרוזדור</text>
<text x="1448" y="3672">10-6</text><text class="u" x="1448" y="3713">ממ&quot;ד</text>
<text x="2016" y="3835">10-5</text><text class="u" x="2016" y="3875">חדר</text>
<text x="2312" y="3835">10-4</text><text class="u" x="2312" y="3875">חדר</text>
<text x="3243" y="3496">10-3</text><text class="u" x="3243" y="3537">מ. שירות</text>
<text x="2705" y="4071">10-8</text><text class="u" x="2705" y="4112">מ. שירות</text>

<!-- dim labels horizontal -->
<g>
<text x="2848" y="492">2063</text>
<text x="1399" y="549">255</text><text x="2227" y="549">777</text><text x="3108" y="549">320</text><text x="3751" y="549">481</text><text x="4322" y="549">230</text>
<text x="1719" y="610">143</text><text x="1929" y="610">120</text><text x="2220" y="610">244</text><text x="2514" y="610">120</text><text x="2731" y="610">150</text><text x="2924" y="610">90</text><text x="3045" y="610">60</text><text x="3105" y="610">15</text><text x="3213" y="610">120</text><text x="3337" y="610">35</text><text x="3384" y="610">23</text><text x="3727" y="610">405</text><text x="4094" y="610">53</text><text x="4322" y="610">230</text>
<text x="1955" y="644">105 +30</text><text x="2535" y="644">105+30</text><text x="3045" y="644">60</text><text x="3213" y="644">105</text><text x="3758" y="644">105 +30</text>
<text x="1351" y="684">195</text>
<text x="1516" y="4461">398</text><text x="1929" y="4461">120</text><text x="2171" y="4461">180</text><text x="2412" y="4461">120</text><text x="2684" y="4461">220</text><text x="3112" y="4461">314</text><text x="3457" y="4461">116</text><text x="3648" y="4461">120</text><text x="4094" y="4461">438</text>
<text x="1956" y="4495">105 +30</text><text x="2439" y="4495">105 +30</text><text x="3676" y="4495">105 +30</text><text x="2820" y="4549">2025</text><text x="1351" y="4308">195</text>
<text x="1224" y="975">35</text><text x="1434" y="975">230</text><text x="1636" y="975">20</text><text x="1885" y="975">292</text><text x="2128" y="975">20</text><text x="2371" y="975">295</text><text x="3143" y="975">320</text><text x="3430" y="975">20</text><text x="3742" y="975">431</text><text x="4056" y="975">30</text><text x="4322" y="975">230</text>
<text x="2730" y="975">120</text><text x="2790" y="975">20</text>
<text x="1524" y="1258">340</text><text x="1893" y="1354">120</text><text x="2053" y="1354">80</text><text x="2297" y="1354">225</text><text x="2053" y="1388">205</text><text x="2130" y="1545">597</text>
<text x="1406" y="1803">265</text><text x="1636" y="1803">20</text><text x="2130" y="1803">597</text><text x="2995" y="1803">460</text><text x="3381" y="1803">20</text><text x="3750" y="1803">441</text><text x="4122" y="1803">20</text><text x="4233" y="1803">120</text><text x="4418" y="1803">110</text>
<text x="3638" y="1258">431</text><text x="4113" y="1258">30</text><text x="4305" y="1258">210</text><text x="4490" y="1258">20</text>
<text x="3727" y="1547">441</text><text x="4120" y="1547">20</text><text x="4305" y="1547">210</text><text x="4540" y="1547">20</text><text x="3381" y="1547">20</text><text x="3381" y="1258">20</text>
<text x="2722" y="1712">119</text><text x="2972" y="1712">341</text>
<text x="2130" y="2389">644</text><text x="2880" y="2385">110</text><text x="3183" y="2385">268</text><text x="3458" y="2389">110</text><text x="3856" y="2389">341</text><text x="2168" y="2753">644</text><text x="2161" y="2870">599</text><text x="2668" y="2870">65</text><text x="2757" y="2870">45</text><text x="3060" y="2870">358</text><text x="3487" y="2870">110</text><text x="3747" y="2870">195</text><text x="3950" y="2870">156</text><text x="4270" y="2870">80</text><text x="2685" y="2930">90</text>
<text x="2509" y="2978">1067</text><text x="1737" y="3307">105</text><text x="2199" y="3307">473</text><text x="2827" y="3307">310</text><text x="3220" y="3307">180</text><text x="3487" y="3307">110</text><text x="3909" y="3307">260</text><text x="4091" y="3307">85</text>
<text x="2509" y="3524">1067</text>
<text x="1436" y="3623">230</text><text x="1737" y="3623">105</text><text x="1858" y="3623">91</text><text x="2032" y="3623">80</text><text x="2210" y="3623">212</text><text x="2498" y="3623">80</text><text x="2827" y="3623">290</text><text x="3195" y="3623">160</text><text x="3469" y="3545">110</text><text x="3749" y="3545">218</text><text x="4201" y="3545">305</text><text x="3469" y="3640">80</text><text x="3730" y="3640">243</text><text x="4176" y="3640">275</text>
<text x="1436" y="3910">230</text><text x="1885" y="3910">290</text><text x="2418" y="3910">303</text><text x="2733" y="3910">120</text><text x="3529" y="3910">328</text><text x="4176" y="3910">275</text><text x="3112" y="3910">314</text><text x="3040" y="3860">314</text>
<text x="2265" y="3775">163</text>
<text x="2888" y="2510">111</text><text x="3100" y="2570">144</text><text x="3297" y="2570">87</text>
</g>
<!-- dim labels vertical -->
<g>
<text transform="rotate(-90 650 869)" x="650" y="869">163</text><text transform="rotate(-90 650 1081)" x="650" y="1081">100</text><text transform="rotate(-90 650 1281)" x="650" y="1281">145</text><text transform="rotate(-90 650 1493)" x="650" y="1493">120</text><text transform="rotate(-90 650 1994)" x="650" y="1994">500</text><text transform="rotate(-90 650 2445)" x="650" y="2445">65</text><text transform="rotate(-90 650 2939)" x="650" y="2939">500</text><text transform="rotate(-90 650 3442)" x="650" y="3442">130</text><text transform="rotate(-90 650 3654)" x="650" y="3654">135</text><text transform="rotate(-90 650 3845)" x="650" y="3845">100</text><text transform="rotate(-90 650 4070)" x="650" y="4070">180</text>
<text transform="rotate(-90 697 1081)" x="697" y="1081">100</text><text transform="rotate(-90 697 1966)" x="697" y="1966">220 +30</text><text transform="rotate(-90 697 2524)" x="697" y="2524">24</text><text transform="rotate(-90 697 2908)" x="697" y="2908">220 +30</text><text transform="rotate(-90 697 3839)" x="697" y="3839">100</text>
<text transform="rotate(-90 580 1590)" x="580" y="1590">1080</text><text transform="rotate(-90 580 2475)" x="580" y="2475">25</text><text transform="rotate(-90 580 3021)" x="580" y="3021">654</text><text transform="rotate(-90 580 3882)" x="580" y="3882">415</text>
<text transform="rotate(-90 508 2470)" x="508" y="2470">2174</text><text transform="rotate(-90 1143 869)" x="1143" y="869">165</text><text transform="rotate(-90 1125 4075)" x="1125" y="4075">177</text>
<text transform="rotate(-90 4600 927)" x="4600" y="927">195</text><text transform="rotate(-90 4600 1493)" x="4600" y="1493">470</text><text transform="rotate(-90 4600 2108)" x="4600" y="2108">180</text><text transform="rotate(-90 4600 2374)" x="4600" y="2374">152</text><text transform="rotate(-90 4600 2612)" x="4600" y="2612">150</text><text transform="rotate(-90 4600 2850)" x="4600" y="2850">140</text><text transform="rotate(-90 4600 3045)" x="4600" y="3045">70</text><text transform="rotate(-90 4600 3137)" x="4600" y="3137">44</text><text transform="rotate(-90 4600 3268)" x="4600" y="3268">120</text><text transform="rotate(-90 4600 3406)" x="4600" y="3406">51</text><text transform="rotate(-90 4600 3633)" x="4600" y="3633">233</text><text transform="rotate(-90 4600 3896)" x="4600" y="3896">100</text><text transform="rotate(-90 4600 4094)" x="4600" y="4094">145</text>
<text transform="rotate(-90 4640 1466)" x="4640" y="1466">220 +30</text><text transform="rotate(-90 4640 2083)" x="4640" y="2083">210 +30</text><text transform="rotate(-90 4640 2588)" x="4640" y="2588">105 +30</text><text transform="rotate(-90 4640 3045)" x="4640" y="3045">90</text><text transform="rotate(-90 4640 3268)" x="4640" y="3268">105</text><text transform="rotate(-90 4640 3896)" x="4640" y="3896">100</text>
<text transform="rotate(-90 4714 927)" x="4714" y="927">195</text><text transform="rotate(-90 4714 1524)" x="4714" y="1524">546</text><text transform="rotate(-90 4714 2702)" x="4714" y="2702">925</text><text transform="rotate(-90 4714 3830)" x="4714" y="3830">478</text><text transform="rotate(-90 4800 2470)" x="4800" y="2470">2174</text>
<text transform="rotate(-90 1374 880)" x="1374" y="880">133</text><text transform="rotate(-90 1374 1095)" x="1374" y="1095">100</text><text transform="rotate(-90 1405 1095)" x="1405" y="1095">100</text><text transform="rotate(-90 1374 1250)" x="1374" y="1250">115</text>
<text transform="rotate(-90 1760 935)" x="1760" y="935">265</text><text transform="rotate(-90 1920 1030)" x="1920" y="1030">340</text><text transform="rotate(-90 2352 1030)" x="2352" y="1030">340</text><text transform="rotate(-90 2555 840)" x="2555" y="840">110</text><text transform="rotate(-90 2555 990)" x="2555" y="990">70</text><text transform="rotate(-90 2555 1390)" x="2555" y="1390">70</text><text transform="rotate(-90 2555 1545)" x="2555" y="1545">120</text>
<text transform="rotate(-90 1370 2240)" x="1370" y="2240">660</text><text transform="rotate(-90 1764 1980)" x="1764" y="1980">613</text><text transform="rotate(-90 2343 1980)" x="2343" y="1980">613</text><text transform="rotate(-90 2553 1990)" x="2553" y="1990">418</text><text transform="rotate(-90 3148 1830)" x="3148" y="1830">239</text>
<text transform="rotate(-90 2553 2455)" x="2553" y="2455">95</text><text transform="rotate(-90 2553 2555)" x="2553" y="2555">85</text><text transform="rotate(-90 2553 2710)" x="2553" y="2710">100</text><text transform="rotate(-90 1764 2990)" x="1764" y="2990">617</text><text transform="rotate(-90 2343 2990)" x="2343" y="2990">617</text><text transform="rotate(-90 2553 3085)" x="2553" y="3085">322</text><text transform="rotate(-90 3012 3085)" x="3012" y="3085">322</text>
<text transform="rotate(-90 1370 3040)" x="1370" y="3040">654</text>
<text transform="rotate(-90 3137 1009)" x="3137" y="1009">340</text><text transform="rotate(-90 3660 980)" x="3660" y="980">219</text><text transform="rotate(-90 3520 1565)" x="3520" y="1565">898</text><text transform="rotate(-90 3668 1665)" x="3668" y="1665">669</text><text transform="rotate(-90 4240 940)" x="4240" y="940">195</text><text transform="rotate(-90 4240 1450)" x="4240" y="1450">495</text><text transform="rotate(-90 4240 2090)" x="4240" y="2090">198</text><text transform="rotate(-90 4238 2530)" x="4238" y="2530">308</text>
<text transform="rotate(-90 3520 3020)" x="3520" y="3020">335</text><text transform="rotate(-90 3670 2950)" x="3670" y="2950">195</text><text transform="rotate(-90 3960 3010)" x="3960" y="3010">120</text><text transform="rotate(-90 4255 3180)" x="4255" y="3180">410</text><text transform="rotate(-90 3670 3265)" x="3670" y="3265">210</text>
<text transform="rotate(-90 3530 3400)" x="3530" y="3400">70</text><text transform="rotate(-90 3530 3590)" x="3530" y="3590">70</text><text transform="rotate(-90 3680 3560)" x="3680" y="3560">200</text>
<text transform="rotate(-90 3524 3965)" x="3524" y="3965">320</text><text transform="rotate(-90 3668 3965)" x="3668" y="3965">320</text><text transform="rotate(-90 4245 3800)" x="4245" y="3800">453</text><text transform="rotate(-90 4245 4240)" x="4245" y="4240">25</text>
<text transform="rotate(-90 1296 3700)" x="1296" y="3700">105</text><text transform="rotate(-90 1290 3850)" x="1290" y="3850">100</text><text transform="rotate(-90 1340 3850)" x="1340" y="3850">100</text><text transform="rotate(-90 1372 3815)" x="1372" y="3815">355</text><text transform="rotate(-90 1535 3655)" x="1535" y="3655">200</text><text transform="rotate(-90 1530 3950)" x="1530" y="3950">273</text><text transform="rotate(-90 1275 4040)" x="1275" y="4040">150</text><text transform="rotate(-90 1773 3600)" x="1773" y="3600">100</text><text transform="rotate(-90 1770 4000)" x="1770" y="4000">258</text><text transform="rotate(-90 2349 3880)" x="2349" y="3880">315</text><text transform="rotate(-90 2553 4075)" x="2553" y="4075">135</text><text transform="rotate(-90 2553 3907)" x="2553" y="3907">70</text>
<text transform="rotate(-90 3009 3510)" x="3009" y="3510">190</text><text transform="rotate(-90 3037 4000)" x="3037" y="4000">70</text><text transform="rotate(-90 3075 4000)" x="3075" y="4000">90</text><text transform="rotate(-90 3037 4150)" x="3037" y="4150">90</text>
<text transform="rotate(-90 2824 2428)" x="2824" y="2428">110</text><text transform="rotate(-90 3160 2445)" x="3160" y="2445">439</text><text transform="rotate(-90 3040 2560)" x="3040" y="2560">122</text><text transform="rotate(-90 3038 2730)" x="3038" y="2730">85</text>
<text transform="rotate(-90 2756 2220)" x="2756" y="2220">205</text><text transform="rotate(-90 2855 2710)" x="2855" y="2710">205</text><text transform="rotate(-90 2717 2222)" x="2717" y="2222">90</text><text transform="rotate(-90 2822 2710)" x="2822" y="2710">90</text><text transform="rotate(-90 3285 2180)" x="3285" y="2180">90</text><text transform="rotate(-90 3316 2180)" x="3316" y="2180">205</text>
</g>

<!-- notes -->
<text class="u" x="1200" y="256" >קו חלקה</text><text class="u" x="4030" y="200">קו חלקה</text><text class="u" x="1221" y="4850">קו חלקה</text><text class="u" x="4496" y="4783">קו חלקה</text>
<text class="u" transform="rotate(-90 860 2779)" x="860" y="2779">קו חלקה</text><text class="u" transform="rotate(-90 5048 2252)" x="5048" y="2252">קו חלקה</text>
<g class="r">
<text class="r" x="1428" y="414">פרט בגליון 413</text><text class="r" x="1431" y="452">ניתוק בין אבן בהירה וכהה</text><text class="r" x="1427" y="483">סרגל נירוסטה תוצרת איל ציפויים או ש&quot;ע</text>
<text class="r" x="1090" y="575">חיפוי פח מכופף של</text><text class="r" x="1090" y="606">חברת רולמט ראה</text><text class="r" x="1090" y="637">פירוט בגיליון 411</text>
<text class="r" x="1090" y="4269">חיפוי פח מכופף של</text><text class="r" x="1090" y="4299">חברת רולמט ראה</text><text class="r" x="1090" y="4328">פירוט בגיליון 411</text>
<text class="r" x="1415" y="4401">ניתוק בין אבן בהירה וכהה</text><text class="r" x="1415" y="4430">סרגל נירוסטה תוצרת איל ציפויים אוש &quot;ע</text><text class="r" x="1410" y="4459">פרט בגליון 413</text>
<text class="r" x="1068" y="1327">A,A1 פרט</text><text class="r" x="1068" y="1359">בגליון 413</text><text class="r" x="1118" y="1458">מסתור אלומיניום</text><text class="r" x="1005" y="1686">מעקה</text>
<text class="r" x="1040" y="2490">צמ&quot;ג מרפסות</text><text class="r" x="1005" y="3242">מעקה</text><text class="r" x="1070" y="3334">קורת בטון ראה</text><text class="r" x="1070" y="3365">פירוט בגיליון</text><text class="r" x="1070" y="3394">410/412</text><text class="r" x="1118" y="3512">מסתור אלומיניום</text><text class="r" x="1068" y="3617">A,A1 פרט</text><text class="r" x="1068" y="3649">בגליון 413</text>
</g>
<text x="1873" y="537">צינור &quot;4 ניקוז ג'קוזי</text><text x="1382" y="1444">ברז גן</text><text x="1403" y="3515">ברז גן</text>
<text x="4206" y="770">צמ&quot;ג</text><text x="4263" y="801">מרפסת קומה ו</text><text x="3245" y="838">פתח יציאה לונטה</text><text x="3245" y="868">צמוד לתקרה 20/20</text><text x="3267" y="1128">מדף בטון</text><text x="3533" y="1396">צינור &quot;4 גובה 90</text><text x="3512" y="1427">הכנה ליבשן</text><text x="4782" y="1355">מעקה פלדה וזכוכית</text><text x="4220" y="1030">צמ&quot;ג גג</text><text x="4627" y="1823">צמ&quot;ג מרפסות</text>
<text x="2880" y="760">צמ&quot;ג</text><text x="2950" y="790">מרפסת קומה ו</text>
<text class="f" x="2985" y="1040">מסתור אלומיניום</text><text class="f" x="2985" y="1085">מסתור D</text><text class="f" x="2985" y="1115">פרט בגליון 710</text>
<text x="2755" y="1140">צנרת סולארית</text><text x="2755" y="1172">דירות קימות</text><text x="3010" y="1195">צמ&quot;ג מסתורי</text><text x="3010" y="1228">כביסה</text><text x="3010" y="1258">(D=15)</text>
<text class="b" font-weight="bold" x="2585" y="1875">פירי צנרת: סגירה בלתות פח</text><text class="b" font-weight="bold" x="2585" y="1906">של פלרז או ש&quot;ע</text>
<text class="f" x="2875" y="1664">הנמכת גבס 20/20 למעבר צנרת ספרינקלרים</text>
<text class="f" transform="rotate(-90 3425 1720)" x="3425" y="1720">הנמכת גבס 20/20 למעבר צנרת ספרינקלרים</text>
<text class="f" x="2669" y="1995">פתח 20/20</text>
<text class="f" x="2484" y="2025">צנור אוורור לק-7 רק</text><text class="f" x="2484" y="2050">במילוי רצפת קומה ד</text><text class="f" x="2540" y="2098">צנרת מים וכיבוי אש עולה עד קומה ד</text><text class="f" x="2456" y="2124">עם מעבר במילוי לפיר</text><text class="f" x="2572" y="2186">ספרינקלר מעל הדלת</text><text class="f" x="2554" y="2343">עמדת כיבוי אש</text>
<text class="f" x="2297" y="2458">הנמכת גבס 20/20 למעבר צנרת ספרינקלרים</text><text class="f" x="2189" y="2523">הנמכת גבס 20/20 למעבר צנרת ספרינקלרים</text><text class="f" x="2484" y="2523">פתח 80/20</text><text class="f" x="2425" y="2567">צנרת מ&quot;א עולה לגג</text><text class="f" x="2585" y="2676">ספרינקלר מעל הדלת</text>
<text class="f" x="3498" y="2174">ספרינקלר מעל הדלת</text><text class="f" x="2910" y="2015">א.ח. דירתי</text><text class="f" x="2965" y="2238">ת. חרום</text><text x="2972" y="2102">חשמל ותקשורת</text><text x="3095" y="2604">מעלית 5 נוסעים</text><text class="f" x="2690" y="2780">א.ח. דירתי</text>
<text x="2203" y="1423">תקרת גבס מונמכת למעבר צנרת מ&quot;א וספרינקלרים</text><text x="2196" y="1453" class="u">H=2.30</text>
<text x="2105" y="3522">תקרת גבס מונמכת למעבר צנרת מ&quot;א וספרינקלרים</text><text x="2105" y="3552" class="u">H=2.30</text>
<text class="f" x="2700" y="2862">הנמכת גבס 20/20 למעבר צנרת ספרינקלרים</text>
<g class="u">
<text class="u" transform="rotate(-36 2830 1468)" x="2830" y="1468">יחידת מ&quot;א בתקרה</text><text class="u" transform="rotate(-36 2858 1504)" x="2858" y="1504">הנמכת גבס H=2.20</text>
<text class="u" transform="rotate(-36 2797 3509)" x="2797" y="3509">יחידת מ&quot;א בתקרה</text><text class="u" transform="rotate(-36 2823 3533)" x="2823" y="3533">הנמכת גבס H=2.20</text>
<text class="u" transform="rotate(-40 3786 3280)" x="3786" y="3280">יחידת מ&quot;א בתקרה</text><text class="u" transform="rotate(-40 3807 3314)" x="3807" y="3314">הנמכת גבס H=2.20</text>
<text class="u" x="3859" y="2140">תקרת גבס מונמכת</text><text class="u" x="3859" y="2171">ליחידת מ&quot;א</text><text class="u" x="3859" y="2199">H=2.40</text>
<text class="u" x="3772" y="2925">תקרת גבס</text><text class="u" x="3753" y="2956">מונמכת</text><text class="u" x="3753" y="2986">למעבר</text><text class="u" x="3762" y="3017">צנרת מ&quot;א</text><text class="u" x="3762" y="3047">H=2.40</text>
<text class="u l" x="3411" y="3102">תקרת גבס</text><text class="u l" x="3411" y="3133">מונמכת</text><text class="u l" x="3411" y="3163">למעבר צנרת</text><text class="u l" x="3411" y="3194">מ&quot;א</text><text class="u l" x="3411" y="3224">ספרינקלרים</text><text class="u l" x="3411" y="3255">H=2.40</text>
<text class="u" x="1494" y="1180">פרט ממ&quot;ד בגיליון</text><text style="font-size:38px" x="1497" y="1218">110</text>
<text class="u" x="1448" y="3986">פרט ממ&quot;ד בגליון</text><text style="font-size:38px" x="1448" y="4025">110</text>
<text class="u" x="4143" y="3986">פרט ממ&quot;ד בגיליון</text><text style="font-size:38px" x="4143" y="4025">110</text>
</g>
<text x="4585" y="2245">שרול לונטה שירותי אורחים</text><text x="4526" y="2276">סגירה בגבס</text><text x="4529" y="2322">פתח 20/20 יציאה</text><text x="4498" y="2459">קורה עליונה</text><text x="4547" y="2815">צמ&quot;ג מסתורי כביסה</text><text x="4672" y="2899">צנרת סולארית</text><text x="4663" y="2930">דירות קימות</text><text x="4459" y="2972">פתח יציאה לונטה</text><text x="4473" y="3003">20/20 צמוד לתקרה</text><text x="4709" y="3163">מסתור אלומיניום</text><text x="4670" y="3189">מסתור C</text><text x="4705" y="3219">פרט בגליון 710</text><text x="4515" y="3321">מדף בטון</text><text x="4463" y="3395">צינור &quot;4 גובה 90</text><text x="4435" y="3424">הכנה ליבשן</text>
<text x="3986" y="2684">צנרת איורור שירותים פנימיים</text><text x="3487" y="2593">קולטן &quot;4 יורד</text><text x="3481" y="2623">סגירה בגבס</text>
<text x="2874" y="4284">צמ&quot;ג מרפסת</text><text x="2841" y="4313">קומה ו</text><text x="2846" y="4348">מסתור אלומיניום</text><text x="2806" y="4391">מסתור B</text><text x="2839" y="4424">פרט בגליון 710</text><text x="2544" y="4348">צינור &quot;4 גובה 90</text><text x="2572" y="4378">הכנה ליבשן</text>
<text x="3189" y="3964">פתח 20/20 לונטה</text><text x="3185" y="3995">צמוד לתקרת בטון</text><text x="3171" y="4022">(D=15)</text><text x="3084" y="4062">צמ&quot;ג מסתורי כביסה</text><text x="3136" y="4117">גגון E</text><text x="3187" y="4147">פרט בגליון 412</text><text x="3196" y="4263">קיר בטון בהיקף</text><text x="3166" y="4293">מדף בטון</text><text x="3150" y="4323">H=20</text>
<text x="3617" y="3798">צמ&quot;ג גג</text><text x="3581" y="3860">ניקוז גגון לצמ&quot;ג מסתורים</text><text x="3474" y="4547">צנרת סולארית</text><text x="3466" y="4577">דירות קיימות</text><text x="3498" y="4608">סגירה בצמנט בורד</text>
<text class="b r" font-weight="bold" style="font-size:36px" x="3950" y="4702">יש לבדוק במהלך הביצוע אפשרות הטמעת צנרת</text>
<text class="b r" font-weight="bold" style="font-size:36px" x="3835" y="4739">סולרית בתוך הקיר וביטול תעלה חיצונית</text>
<text class="f" x="2860" y="3550">קו מסתור דירות קיימות</text>
<text style="font-size:42px" class="u" x="3252" y="3575" transform="rotate(-90 3252 3575)">W</text><text style="font-size:42px" class="u" x="3305" y="1590" transform="rotate(-90 3305 1590)">W</text><text style="font-size:42px" class="u" x="4093" y="3412">W</text>
</svg>
</body></html>
